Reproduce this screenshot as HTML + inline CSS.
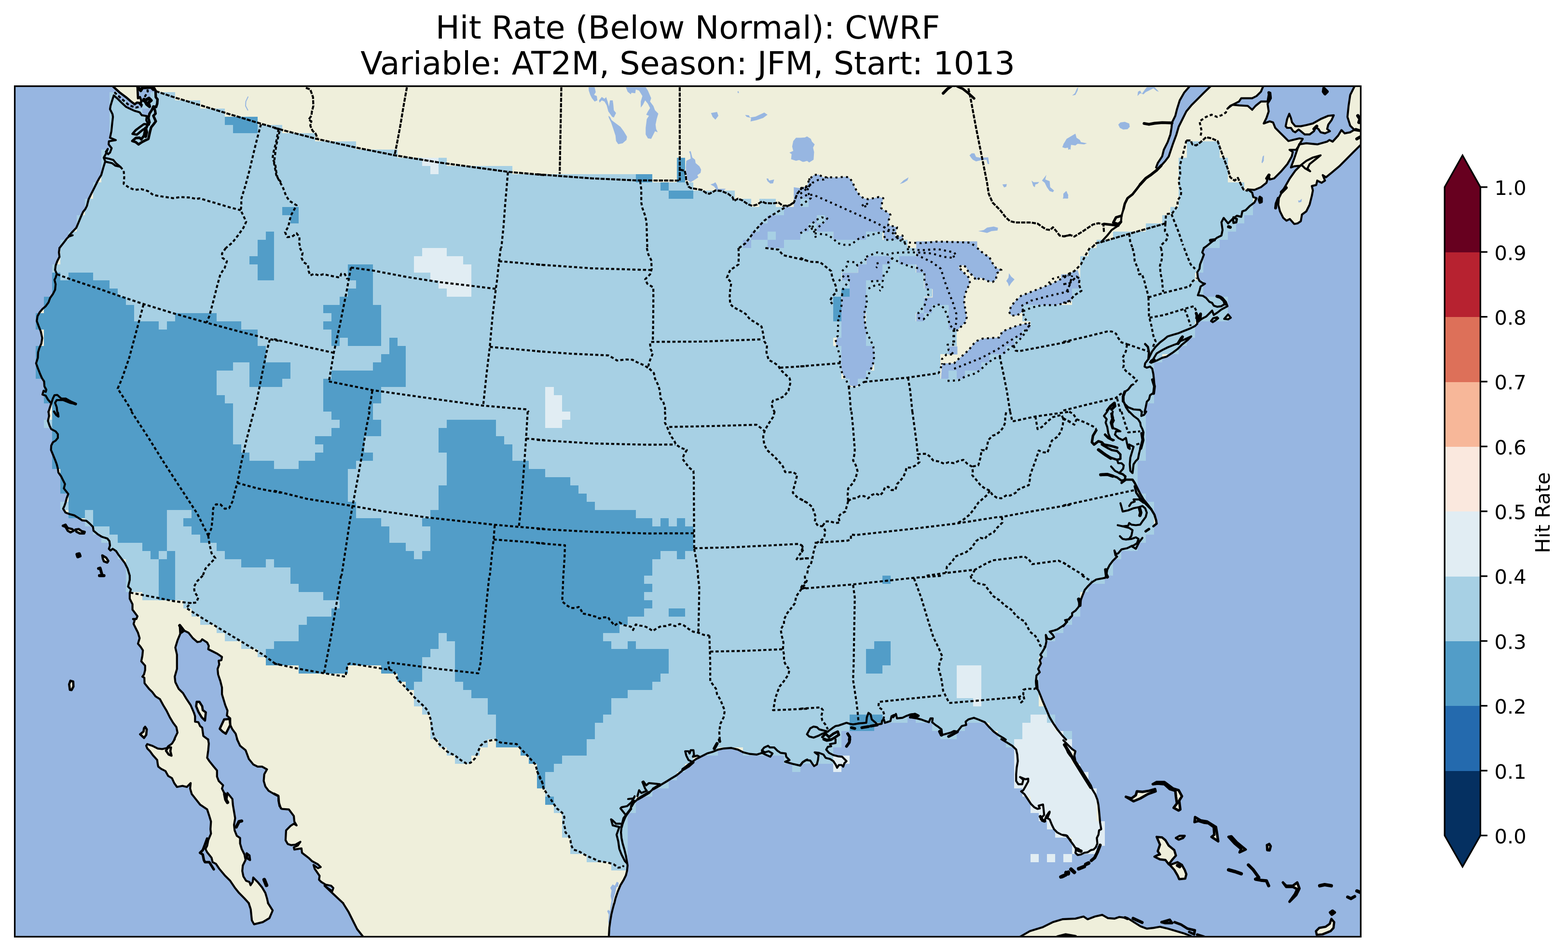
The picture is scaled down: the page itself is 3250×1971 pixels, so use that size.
<!DOCTYPE html>
<html lang="en"><head><meta charset="utf-8"><title>Hit Rate (Below Normal): CWRF</title>
<style>html,body{margin:0;padding:0;background:#fff}body{width:3250px;height:1971px;overflow:hidden}svg{display:block}text{font-family:"DejaVu Sans","Liberation Sans",sans-serif;fill:#000}</style></head><body>
<svg width="3250" height="1971" viewBox="0 0 3250 1971">
<rect width="3250" height="1971" fill="#fff"/>
<defs><clipPath id="mapclip"><rect x="30.6" y="178.6" width="2789.8" height="1762.8"/></clipPath></defs>
<g clip-path="url(#mapclip)">
<rect x="30.6" y="178.6" width="2789.8" height="1762.8" fill="#efefdb"/>
<path d="M2465.7 179L2454.3 192.2 2445.2 208.1 2439.5 226.3 2436.1 240 2429.3 253.7 2428.2 265 2425.9 278.7 2420.2 294.6 2412.2 310.5 2408.8 324.2 2399.7 337.9 2396.3 347 2396.3 353.8 2406.5 343.5 2415.6 333.3 2422.5 324.2 2427 310.5 2431.6 296.9 2438.4 278.7 2443 262.8 2452.1 244.5 2458.9 230.9 2470.3 217.2 2481.6 205.9 2495.3 192.2 2509 179Z" fill="#97b6e1"/>
<path d="M25 172L234.8 172 234.8 179.7 247.3 191.1 261 201.3 271.2 210 279.2 216.1 283.7 212.7 288.3 213.1 291.7 217.2 292.8 208.1 290.1 201.3 286 203.6 284.9 179.7 284.9 172 317.9 171.7 317.9 179.7 322.4 187.7 322.9 201.3 326.5 205.9 325.8 215 323.5 221.8 317.9 220.7 311 230.9 304.2 240.5 305.3 253.7 303.1 249.1 304.2 240.5 294 238.9 289.4 232.7 279.2 229.8 268.9 225.2 261 221.3 251.9 212.7 243.9 204.7 235.9 197.9 232.5 208.1 229.1 219.5 228 226.3 233.2 236.6 234.1 242.3 232.5 255.9 230.9 271.9 228 285.5 240 290.5 225.7 292.8 225.2 299.2 231.4 307.1 228 316.2 224.1 319.6 219.5 314.6 223.4 308.7 219.1 319.6 215 326.9 218.2 334.4 214.3 347 209.8 362.9 205.2 370.2 201.8 376.5 195 390.2 188.1 403.9 183.6 413 180.2 426.6 176.8 433.4 172.2 439.1 167.6 449.4 162 463 158.1 472.1 149.4 481.2 142.6 489.2 150.6 487.6 142.6 490.3 138.1 494.9 131.2 504 123.3 514 123.3 514 122.1 523.1 123.3 532.2 118.7 541.3 115.3 550.4 114.2 559.5 117.6 567.5 115.3 575.4 113 580 115.3 589.1 114.2 600.5 109.6 609.6 103.9 617.5 100.5 626.7 94.8 634.6 88 640.3 82.3 647.1 77.8 655.1 76.2 665.3 80 675.6 84.6 687 87.5 700.6 85.7 712 81.6 721.1 78.9 730.2 78.4 741.6 74.8 753 78.9 764.3 83.4 775.7 86.9 783.7 91.4 790.5 92.1 800.7 96 807.6 94.8 812.1 90.3 809.9 88 817.8 94.8 820.1 99.4 828.1 106.2 836 102.8 846.3 100.5 854 100.5 853 101.7 862.1 99.4 872.3 102.8 882.6 106.2 889.4 115.3 894 119.9 899.7 119.9 907.6 115.3 913.3 109.6 916.7 106.2 923.5 105.7 932.7 109.6 941.8 114.2 953.1 117.6 962.2 119.9 971.3 121 979.3 126.7 987.3 130.1 994.1 134.7 1003.2 132.4 1012.3 136.9 1018 141.5 1023.7 138.1 1032.8 135.8 1041.9 133.5 1048.7 130.8 1054.4 135.8 1062.4 144.9 1065.8 154 1068.1 163.1 1073.7 169.9 1078.3 179 1079.4 185.9 1085.1 192.7 1092 193.8 1099.9 201.8 1106.7 210.9 1112.4 222.3 1115.9 226.8 1121.5 228 1130.6 225.7 1137.5 229.1 1140.9 233.6 1137.5 240.5 1142 245 1148.9 251.9 1158 258.7 1167.1 264.4 1178.4 268.9 1193 268.9 1193 268.9 1202.1 265.5 1215.8 271.2 1221.4 268.9 1229.4 268.9 1240.8 274.6 1252.2 274.6 1263.5 284.9 1277.2 282.6 1282.9 275.7 1282.9 279.2 1285.2 276.9 1293.1 281.4 1302.2 286 1311.3 289.4 1322.7 286 1334.1 291.7 1340.9 296.2 1347.8 295.1 1359.1 292.8 1370.5 300.8 1379.6 300.8 1388.7 298.5 1397.8 295.1 1402.4 299.2 1404.6 299.6 1416 308.7 1427.4 315.6 1434.2 322.4 1443.3 331.5 1449 338.3 1461.5 345.2 1472.9 352 1486.6 358.8 1498 365.6 1507.1 367.9 1518.4 363.4 1527.5 361.1 1533 362.2 1532 356.5 1541.1 348.6 1546.8 346.3 1550.2 336.1 1552.5 327 1551.3 315.6 1545.7 305.3 1542.2 303.1 1545.7 305.3 1551.3 311 1557 316.7 1565 325.8 1575.2 327 1584.3 328.1 1588.9 333.8 1593.4 342.9 1598 348.6 1608.2 356.5 1612.8 361.1 1623 366.8 1631 378.2 1628.7 387.3 1631 395.2 1623 394.1 1634.4 397.5 1645.8 406.6 1657.2 414.6 1667.4 429.4 1677.6 433.9 1691.3 437.3 1702.7 436.2 1718.6 437.3 1727.7 431.6 1741.4 429.4 1752.7 425.9 1759.6 429.4 1766.4 438.5 1777.8 440.7 1786.9 447.6 1790.3 454.4 1800.5 465.8 1814.2 477.2 1825.6 486.3 1839.2 495.4 1850.6 506.7 1862 515.8 1872 515.6 1872 519.7 1884.7 522 1907.5 526.5 1915.6 544.7 1911.1 558.4 1902.9 565.2 1887 555.6 1872 555.7 1872 553.4 1862 550 1850.6 543.2 1839.2 534 1827.9 524.9 1818.7 523.8 1827.9 519.3 1834.7 517 1827.9 510.2 1825.6 504.5 1816.5 502.2 1805.1 503.3 1793.7 509 1782.3 506.7 1771 501 1759.6 497.6 1748.2 497.6 1736.8 490.8 1732.3 486.3 1720.9 485.1 1709.5 487.4 1695.9 485.1 1682.2 482.8 1668.5 481.7 1656 471.5 1643.5 469.2 1659.4 465.8 1645.8 460.1 1634.4 462.4 1627.6 453.3 1618.5 449.8 1609.4 449.8 1596.9 443 1588.9 433.9 1577.5 429.4 1570.7 431.6 1554.8 432.8 1541.1 431.2 1532 431.6 1533 421.4 1525.3 419.1 1508.2 414.6 1504.8 411.2 1496.8 404.3 1495.7 404.3 1484.3 402.1 1477.5 395.2 1461.5 386.1 1447.9 379.3 1436.5 370.2 1427.4 363.4 1413.7 362.2 1402.4 366.8 1386.4 366.8 1372.8 366.8 1356.9 363.4 1342.1 367.9 1327.3 373.6 1313.6 372.5 1295.4 381.6 1306.8 390.7 1311.3 399.8 1322.7 408.9 1330.7 415.7 1329.5 419.1 1325 429.4 1331.8 432.8 1338.6 431.6 1345.5 440.7 1350 449.8 1354.6 460.1 1361.4 458.9 1368.2 453.3 1369.4 454.4 1377.3 451 1386.4 452.1 1397.8 456.7 1411.5 460.1 1425.1 460.1 1438.8 463.5 1450.2 466.9 1461.5 471.5 1472.9 470.3 1483.2 477.2 1488.9 477.2 1502.5 481.7 1511.6 488.5 1520.7 491.9 1533 491.3 1532 497.6 1545.7 509 1554.8 515.8 1573 524.9 1584.3 534 1588.9 543.2 1588.9 553.4 1594.6 547.7 1604.8 546.6 1618.5 550 1629.9 556.8 1639 568.2 1645.8 568 1644.7 577.1 1649.2 577.1 1659.4 579.4 1670.8 583.9 1676.5 598.7 1677.6 609 1691.3 610.1 1702.7 614.7 1710.6 609 1707.2 602.1 1711.8 593 1720.9 591.9 1741.4 596.4 1749.3 603.3 1751.6 612.4 1750.5 622.6 1744.8 616.9 1752.7 609 1756.2 610.1 1760.7 624.9 1758.4 626 1767.5 640.8 1778.9 646.5 1784.6 659 1791.4 664.7 1797.1 659 1799.4 649.9 1792.6 652.2 1800.5 662.4 1815.3 661.3 1823.3 665.9 1827.9 675 1833.5 686.3 1835.8 690.9 1840.4 688.6 1847.2 672.7 1835.8 690.9 1852.9 711.4 1872 711.1 1872 722 1889.3 731.1 1907.5 740.2 1925.6 753.8 1942.9 753.8 1947 25 1947Z" fill="#97b6e1"/>
<path d="M1261.9 1947L1261.9 1942.2 1263 1922.9 1264.8 1909.3 1267.1 1895.6 1269.8 1884.3 1272.8 1872.9 1273.4 1872 1275.7 1862 1280.3 1848.3 1286 1834.7 1292.8 1823.3 1297.3 1814.2 1299.6 1805.1 1300.8 1793.7 1299.6 1786.9 1297.3 1773.2 1293.9 1759.6 1290.5 1748.2 1288.2 1736.8 1287.1 1725.4 1288.2 1714.1 1290.5 1707.2 1295.1 1695.9 1299.6 1686.8 1306.4 1677.6 1308.7 1670.8 1313.3 1664 1322.4 1656 1331.5 1651.5 1345.1 1643.5 1354.2 1634.4 1361.1 1629.9 1370.2 1626.4 1381.5 1619.6 1390.6 1613.9 1402 1607.1 1413.4 1598 1415.7 1593.4 1427.1 1584.3 1438.4 1576.4 1443 1573 1454.4 1567.3 1465.7 1561.6 1477.1 1558.2 1488.5 1553.6 1499.9 1551.3 1515.8 1550.2 1529.5 1553.6 1540.8 1559.3 1554.5 1562.7 1568.2 1563.9 1579.5 1560.4 1579.5 1554.8 1584.1 1549.1 1592 1545.7 1595.5 1549.1 1604.6 1549.1 1611.4 1555.9 1618.2 1560.4 1628.5 1561.6 1629.6 1568.4 1636.4 1575.2 1627.3 1578.7 1643.3 1583.2 1658 1586.6 1663.7 1579.8 1673.1 1574.1 1659 1586.6 1663.6 1579.8 1670.4 1575.2 1679.5 1576.4 1684 1583.2 1687.4 1587.8 1693.1 1584.3 1695.4 1575.2 1696.6 1565 1688.6 1559.3 1697.7 1560.4 1706.8 1563.9 1711.3 1570.7 1720.4 1573 1727.3 1577.5 1731.8 1584.3 1735.2 1591.2 1738.7 1585.5 1744.3 1585.5 1747.8 1588.9 1750 1582.1 1754.6 1577.5 1750 1573 1745.5 1568.4 1736.4 1567.3 1727.3 1565 1718.2 1560.4 1712.5 1553.6 1715.9 1547.9 1722.7 1546.8 1720.4 1542.2 1731.8 1540 1731.8 1532 1715.9 1516.2 1725 1509.3 1731.8 1504.8 1738.7 1503.6 1754.6 1498 1761.4 1500.2 1768.2 1501.4 1781.9 1499.1 1795.5 1498 1796.7 1486.6 1800.1 1477.5 1804.6 1480.9 1806.9 1491.1 1813.8 1496.8 1818.3 1501.4 1827.4 1500.2 1828.5 1493.4 1832 1491.1 1834.2 1498 1845.6 1494.5 1847.9 1484.3 1852.4 1482 1851.3 1486.6 1857 1479.7 1859.3 1488.9 1870.6 1487.7 1877.5 1484.3 1886.6 1480.9 1896.8 1479.7 1903.6 1483.2 1895.7 1485.4 1886.6 1486.6 1900.2 1488.9 1909.3 1491.1 1918.4 1494.5 1925.3 1496.8 1928.7 1488.9 1933.2 1488.9 1932.1 1496.8 1938.9 1502.5 1945.7 1507.1 1951.4 1511.6 1952.6 1520.7 1950.3 1524.1 1961.7 1520.7 1970.8 1518.4 1977.6 1515 1984.4 1516.2 1993.5 1504.8 2002.6 1502.5 2001.5 1495.7 2007.2 1491.1 2018.6 1487.7 2027.7 1491.1 2041.3 1496.8 2050.4 1507.1 2059.5 1516.2 2068.6 1523 2080 1529.8 2084.6 1533 2075.5 1532 2086.8 1538.8 2098.2 1545.7 2106.2 1553.6 2108.5 1563.9 2109.6 1577.5 2107.3 1591.2 2106.2 1604.8 2106.2 1618.5 2110.7 1625.3 2118.7 1625.3 2121 1616.2 2114.2 1610.5 2125.5 1615.1 2131.2 1613.9 2131.2 1619.6 2125.5 1629.9 2121 1637.8 2116.4 1640.1 2123.3 1645.8 2130.1 1656 2136.9 1666.3 2143.7 1673.1 2150.6 1676.5 2155.1 1675.4 2152.8 1669.7 2161.9 1667.4 2163.1 1677.6 2164.2 1689 2159.7 1693.6 2157.4 1698.1 2164.2 1702.7 2168.8 1691.3 2175.6 1682.2 2171 1695.9 2175.6 1698.1 2180.2 1709.5 2184.7 1718.6 2191.5 1725.4 2200.6 1730 2209.7 1731.1 2214.3 1736.8 2219.1 1741.4 2204 1731.1 2212 1732.3 2217.7 1741.4 2224.5 1750.5 2229 1757.3 2235.9 1759.6 2230.2 1761.9 2229 1767.5 2233.6 1772.1 2240.4 1771 2247.2 1767.5 2254.1 1766.4 2260.9 1761.9 2266.6 1760.7 2271.1 1756.2 2274.5 1748.2 2273.4 1736.8 2276.8 1730 2278 1720.9 2282.5 1718.6 2280.2 1705 2278.6 1686.8 2276.8 1668.5 2274.5 1657.2 2270 1645.8 2264.3 1636.7 2260.9 1627.6 2249.5 1609.4 2238.1 1591.2 2229 1577.5 2226.8 1566.1 2229 1557 2222.2 1552.5 2213.1 1543.4 2204 1534.3 2209.7 1533 2200.6 1523 2191.5 1511.6 2182.4 1498 2175.6 1486.6 2168.8 1470.6 2161.9 1454.7 2157.4 1443.3 2152.8 1432 2148.3 1425.1 2147.2 1411.5 2148.3 1400.1 2155.1 1393.3 2151.7 1386.4 2157.4 1375.1 2155.1 1368.2 2159.7 1361.4 2156.3 1356.9 2159.7 1352.3 2166.5 1340.9 2168.8 1329.5 2167.6 1315.9 2171 1323.9 2177.9 1325 2184.7 1320.4 2182.4 1315.9 2175.6 1309.1 2184.7 1306.8 2191.5 1304.5 2198.4 1300 2205.2 1295.4 2212 1288.6 2207.5 1285.2 2214.3 1284 2219.1 1278.3 2222.2 1276.1 2222.2 1270.4 2229 1265.8 2234.7 1259 2239.3 1252.2 2240.4 1243.1 2243.8 1234 2248.4 1222.6 2254.1 1215.8 2263.2 1206.7 2272.3 1201 2290.5 1197.6 2293.2 1193 2292.8 1193 2295 1180.7 2299.6 1171.6 2306.4 1162.5 2315.5 1153.4 2317.8 1146.6 2324.6 1138.6 2336 1136.3 2345.1 1131.8 2354.2 1137.5 2361 1123.8 2367.9 1114.7 2372.4 1103.3 2381.5 1096.5 2390.6 1090.8 2397.4 1085.1 2396.3 1078.3 2392.9 1066.9 2386.1 1055.5 2379.2 1046.4 2370.1 1035.1 2363.3 1023.7 2356.5 1010 2351.9 1000.9 2349.6 989.5 2347.4 980.4 2348.5 971.3 2349.6 962.2 2354.2 955.4 2358.8 950.9 2361 939.5 2363.3 930.4 2366.7 919 2369 905.3 2370.1 896.2 2367.9 889.4 2363.3 875.8 2366 862.1 2372.4 859.8 2372.4 853 2372.4 854 2374.7 844 2377 832.6 2381.5 828.1 2383.8 819 2390.6 814.4 2392.9 800.7 2391.8 787.1 2390.6 775.7 2388.3 764.3 2383.8 759.8 2377 762.1 2372.4 759.8 2373.5 753 2380.4 743.9 2383.8 737 2388.3 727.9 2395.2 718.8 2404.3 709.7 2413.4 702.9 2420.2 697.2 2431.6 693.8 2443 690.4 2454.3 685.8 2465.7 681.3 2477.1 675.6 2481.6 671 2480.5 650.5 2479.4 659.6 2486.2 664.2 2493 659.6 2499.9 656.2 2506.7 649.4 2512.4 643.7 2515.8 652.8 2522.6 648.3 2531.7 641.4 2544.2 634.6 2540.8 625.5 2534 617.5 2524.9 613 2522.6 614.1 2529.4 616.4 2536.3 623.2 2538.5 630.1 2531.7 634.6 2522.6 635.8 2515.8 633.5 2512.4 627.8 2506.7 625.5 2499.9 617.5 2493 613 2482.8 611.9 2486.2 602.8 2488.5 593.7 2497.6 588 2493 586.8 2486.2 582.3 2482.8 575.4 2481.6 564.1 2486.2 557.2 2487.3 548.1 2491.9 536.8 2495.3 527.7 2491.9 523.1 2495.3 514 2495.3 514 2499.9 510.8 2511.2 501.7 2522.6 492.6 2531.7 488.1 2534 476.7 2531.7 460.7 2536.3 451.6 2545.4 463 2554.5 453.9 2563.6 447.1 2572.7 449.4 2575 438 2581.8 435.7 2590.9 426.6 2600 419.8 2604.5 410.7 2597.7 408.4 2595.4 399.3 2586.3 392.5 2586.3 392.5 2600 393.6 2613.6 387.9 2625 378.8 2629.6 362.9 2631.8 372 2640.9 369.7 2654.6 356.1 2668.3 340.1 2677.4 324.2 2679.6 315.1 2672.8 310.5 2686.5 310.5 2693.3 300.3 2692.8 299.2 2689.4 308.3 2682.5 328.8 2675.7 347 2682.5 344.7 2693.9 343.5 2698.5 342.4 2705.3 349.2 2715.5 354.9 2709.9 349.2 2714.4 340.1 2725.8 331 2737.2 321.9 2721.2 326.5 2707.6 333.3 2696.2 342.4 2684.8 353.8 2673.4 369.7 2664.3 385.6 2657.5 397 2650.7 410.7 2649.5 424.3 2653 438 2659.8 451.6 2666.6 457.3 2673.4 453.9 2682.5 464.2 2689.4 463 2696.2 458.5 2698.5 444.8 2707.6 438 2714.4 424.3 2719 406.1 2721.2 394.7 2719 385.6 2728.1 383.4 2730.3 374.3 2739.4 378.8 2746.3 374.3 2741.7 362.9 2748.5 367.4 2762.2 356.1 2775.9 344.7 2791.8 328.8 2805.4 315.1 2821.4 299.2 2821.4 270.7 2810 267.3 2798.6 274.1 2787.2 276.4 2780.4 269.6 2773.6 281 2762.2 293.5 2755.4 290.1 2750.8 293.5 2730.3 299.2 2826 299.2 2826 1947Z" fill="#97b6e1"/>
<path d="M2618.2 172L2618.2 179 2613.6 189.9 2604.5 199 2595.4 203.6 2572.7 203.6 2568.1 210.4 2559 215 2549.9 219.5 2544.2 225.2 2554.5 217.2 2568.1 218.4 2586.3 219.5 2595.4 227.5 2602.3 219.5 2613.6 210.4 2627.3 210.4 2629.6 196.8 2633 192.2 2634.1 203.6 2627.3 215 2629.6 230.9 2625 244.5 2619.3 255.9 2631.8 251.4 2638.7 253.7 2643.2 265 2654.6 276.4 2666 287.8 2670.5 292.3 2693.3 286.7 2700.1 287.8 2693.3 299.2 2692.8 299.2 2707.6 296.9 2730.3 299.2 2750.8 293.5 2755.4 290.1 2762.2 293.5 2773.6 281 2780.4 269.6 2787.2 276.4 2798.6 274.1 2810 267.3 2821.4 270.7 2826 270.7 2826 172Z" fill="#97b6e1"/>
<path d="M1971.2 179L1977.6 180.8 1984.4 179 1984.4 174 1971.2 174Z" fill="#97b6e1"/>
<path d="M130.1 1089.7L135.8 1087.4 140.3 1094.2 149.4 1096.5 152.9 1099.9 146 1103.3 140.3 1099.9 135.8 1092 130.1 1089.7Z" fill="#efefdb"/>
<path d="M156.3 1097.6L163.1 1096.5 169.9 1101.1 175.6 1102.2 174.5 1105.6 165.4 1105.6 158.5 1102.2 156.3 1097.6Z" fill="#efefdb"/>
<path d="M212 1151.1L220 1155.7 224.5 1162.5 222.3 1165.9 215.4 1163.6 213.2 1158 212 1151.1Z" fill="#efefdb"/>
<path d="M407.7 1454.7L413.4 1454.7 419.1 1463.8 420.3 1471.8 426.6 1476.3 424.8 1493.4 418 1486.6 411.2 1475.2 406.6 1463.8 407.7 1454.7Z" fill="#efefdb"/>
<path d="M464.6 1491.1L476 1490 477.2 1502.5 468.1 1520.7 461.2 1516.2 455.5 1510.5 464.6 1491.1Z" fill="#efefdb"/>
<path d="M300.8 1506.6L304.2 1511.6 303.1 1523 298.5 1529.4 290.5 1521.8 297.4 1516.2 298.5 1509.3 300.8 1506.6Z" fill="#efefdb"/>
<path d="M146 1411L151.7 1412.6 152.2 1422.9 148.3 1430.1 144.9 1429.7 143.3 1418.3 146 1411Z" fill="#efefdb"/>
<path d="M2383.8 750.7L2390.6 743.9 2397.4 732.5 2408.8 725.6 2420.2 720 2431.6 715.4 2440.7 712 2447.5 700.6 2450.9 697.2 2445.2 707.4 2454.3 704 2469.1 697.2 2461.2 705.2 2449.8 714.3 2440.7 723.4 2431.6 730.2 2417.9 739.3 2408.8 741.6 2397.4 747.3 2386.1 751.8 2383.8 750.7Z" fill="#efefdb"/>
<path d="M2510.1 665.3L2514.6 659.6 2522.6 657.4 2524.9 659.6 2519.2 664.2 2513.5 667.6 2510.1 665.3Z" fill="#efefdb"/>
<path d="M2537.4 660.8L2545.4 651.7 2551.1 658.5 2545.4 661.9 2537.4 660.8Z" fill="#efefdb"/>
<path d="M2333.7 1651.5L2349.6 1660.6 2363.3 1654.9 2379.2 1645.8 2395.2 1640.1 2394 1635.5 2381.5 1639 2367.9 1641.2 2356.5 1640.1 2354.2 1648.1 2345.1 1654.9 2333.7 1651.5Z" fill="#efefdb"/>
<path d="M2389.5 1625.3L2397.4 1620.8 2413.4 1620.8 2422.5 1627.6 2431.6 1634.4 2443 1637.8 2449.8 1650.3 2444.1 1659.4 2446.4 1677.6 2443 1679.9 2432.7 1674.2 2439.5 1665.1 2437.3 1650.3 2436.1 1639 2424.7 1635.5 2413.4 1625.3 2399.7 1624.2 2389.5 1625.3Z" fill="#efefdb"/>
<path d="M2397.4 1734.5L2408.8 1735.7 2415.6 1741.4 2422.5 1752.7 2433.9 1761.9 2437.3 1773.2 2429.3 1782.3 2422.5 1791.4 2415.6 1782.3 2404.3 1781.2 2392.9 1775.5 2399.7 1772.1 2404.3 1771 2399.7 1764.1 2404.3 1750.5 2397.4 1734.5Z" fill="#efefdb"/>
<path d="M2424.7 1792.6L2440.7 1786.9 2449.8 1792.6 2455.5 1802.8 2458.9 1811.9 2456.6 1821 2444.1 1822.2 2440.7 1814.2 2433.9 1802.8 2424.7 1792.6Z" fill="#efefdb"/>
<path d="M2437.3 1736.8L2445.2 1732.3 2455.5 1732.3 2452.1 1736.8 2443 1740.2 2437.3 1736.8Z" fill="#efefdb"/>
<path d="M2477.1 1693.6L2476 1703.8 2483.9 1701.5 2495.3 1705 2504.4 1706.1 2515.8 1714.1 2516.9 1730 2511.2 1734.5 2524.9 1743.6 2522.6 1727.7 2520.3 1714.1 2502.1 1702.7 2488.5 1700.4 2477.1 1693.6Z" fill="#efefdb"/>
<path d="M2546.5 1734.5L2552.2 1733.4 2563.6 1745.9 2581.8 1760.7 2569.3 1766.4 2572.7 1759.6 2559 1748.2 2546.5 1734.5Z" fill="#efefdb"/>
<path d="M2626.2 1751.6L2630.7 1749.3 2633.7 1753.9 2631.4 1762.3 2626.8 1761.9 2626.2 1751.6Z" fill="#efefdb"/>
<path d="M2659.2 1829L2666 1835.8 2679.6 1835.8 2688.7 1829 2693.3 1841.5 2686.5 1855.2 2672.8 1868.8 2684.2 1852.9 2688.7 1842.6 2679.6 1838.1 2666 1838.1 2659.2 1829Z" fill="#efefdb"/>
<path d="M2692.8 299.2L2707.6 296.9 2730.3 299.2 2750.8 293.5 2755.4 290.1 2762.2 293.5 2773.6 281 2780.4 269.6 2787.2 276.4 2798.6 274.1 2810 267.3 2821.4 270.7 2821.4 299.2 2805.4 315.1 2791.8 328.8 2775.9 344.7 2762.2 356.1 2748.5 367.4 2741.7 362.9 2746.3 374.3 2739.4 378.8 2730.3 374.3 2728.1 383.4 2719 385.6 2721.2 394.7 2719 406.1 2714.4 424.3 2707.6 438 2698.5 444.8 2696.2 458.5 2689.4 463 2682.5 464.2 2673.4 453.9 2666.6 457.3 2659.8 451.6 2653 438 2649.5 424.3 2650.7 410.7 2657.5 397 2664.3 385.6 2673.4 369.7 2684.8 353.8 2696.2 342.4 2707.6 333.3 2721.2 326.5 2737.2 321.9 2725.8 331 2714.4 340.1 2709.9 349.2 2715.5 354.9 2705.3 349.2 2698.5 342.4 2693.9 343.5 2682.5 344.7 2675.7 347 2682.5 328.8 2689.4 308.3 2692.8 299.2Z" fill="#efefdb"/>
<path d="M2672.3 235.9L2675.7 244.5 2678 253.7 2684.8 261.6 2696.2 261.6 2707.6 259.3 2721.2 255.9 2737.2 246.8 2753.1 240 2764.5 238.9 2759.9 249.1 2753.1 258.2 2750.8 267.3 2756.5 271.9 2746.3 276.4 2737.2 274.1 2732.6 267.3 2726.9 263.9 2723.5 271.9 2714.4 278.7 2704.2 278.7 2696.2 271.9 2691.6 268.4 2684.8 274.1 2680.3 271.9 2675.7 265 2667.8 265 2664.8 261.6 2667.8 246.8 2672.3 235.9Z" fill="#efefdb"/>
<path d="M2807.7 178.6L2798.6 196.8 2795.2 219.5 2792.9 242.3 2798.6 260.5 2807.7 269.6 2821.4 271.9 2821.4 178.6Z" fill="#efefdb"/>
<path d="M2111.2 1943.3L2134.7 1929.8 2161.7 1921.4 2181.9 1911.3 2202.1 1905.2 2229.1 1903.9 2245.9 1899.5 2254.3 1905.2 2269.5 1899.5 2284.6 1896.1 2296.4 1902.8 2309.9 1903.9 2320 1900.5 2336.9 1902.8 2350.3 1911.3 2363.8 1919.7 2377.3 1924.7 2390.7 1923.1 2404.2 1920.7 2421.1 1924.7 2437.9 1929.8 2454.7 1934.8 2468.2 1939.9 2473.3 1943.3 2473.3 1951.7 2111.2 1951.7Z" fill="#efefdb"/>
<path d="M2759.6 1904.5L2765.3 1911.3 2764 1923.1 2757.9 1929.8 2741.1 1936.5 2729.3 1937.5 2727.6 1929.8 2734.3 1923.1 2747.8 1920.7 2756.2 1914.6 2759.6 1904.5Z" fill="#efefdb"/>
<path d="M514 200.9L509.5 210.4 509 219.5 513.6 228.2" fill="none" stroke="#97b6e1" stroke-width="2" stroke-linecap="round" stroke-linejoin="round"/>
<path d="M1220 180.8L1232.5 180.8 1234.8 191.1 1231.3 196.8 1237 199 1238.2 208.1 1232.5 210.4 1226.8 203.6 1223.4 196.8 1220.4 187.7Z" fill="#97b6e1"/>
<path d="M1241.6 208.1L1247.3 200.9 1253 204.7 1256.4 201.3 1259.8 211.6 1262.1 220.7 1264.3 208.1 1270 208.1 1271.2 216.1 1272.3 228.6 1276.9 234.3 1272.3 243.4 1268.9 242.3 1260.9 230.9 1257.5 218.4 1253 210.4 1247.3 208.1 1242.7 212.7Z" fill="#97b6e1"/>
<path d="M1260.9 240L1264.3 242.3 1267.8 249.1 1276.9 255.9 1286 262.8 1292.8 271.9 1299.6 283.2 1298.5 290.1 1290.5 296.9 1281.4 298.7 1276.9 292.3 1275.7 281 1271.2 267.3 1266.6 253.7 1262.1 244.5Z" fill="#97b6e1"/>
<path d="M1297.3 180.8L1338.3 180.8 1342.9 187.7 1349.7 203.6 1347.4 210.4 1354.2 219.5 1357.6 228.6 1364.5 235.4 1361.1 246.8 1358.8 258.2 1359.9 267.3 1363.3 274.1 1357.6 271.9 1353.1 281 1349.7 287.8 1342.9 286.7 1338.3 278.7 1338.3 265 1340.6 246.8 1345.1 240 1339.4 237.7 1342.9 230.9 1347.4 224.1 1342.9 215 1337.2 208.1 1332.6 217.2 1328.1 222.9 1328.1 210.4 1331.5 199 1324.6 187.7 1317.8 185.4 1316.7 193.3 1308.7 192.2 1307.6 195.6 1300.8 189.9Z" fill="#97b6e1"/>
<path d="M1428.2 314L1431.6 313.3 1435 326.5 1440.7 331 1441.8 337.9 1449.8 344.7 1453.2 351.5 1452.1 358.3 1445.3 362.9 1447.5 367.4 1440.7 372 1431.6 377.7 1425.9 374.3 1422.5 360.6 1421.4 347 1422.5 333.3 1431.6 328.8 1430.5 319.6Z" fill="#97b6e1"/>
<path d="M1472.6 382.2L1479.4 380 1482.8 377.7 1486.2 383.4 1488.5 391.3 1504.4 391.3 1499.9 394.7 1486.2 395.2 1480.5 386.8Z" fill="#97b6e1"/>
<path d="M1473.7 234.3L1486.2 232 1489 240 1482.8 248 1477.1 242.3Z" fill="#97b6e1"/>
<path d="M1544.3 238.2L1552.2 238.9 1554.5 243.4 1565.9 241.8 1584.1 233.2 1590.9 237.7 1581.8 244.5 1568.2 249.1 1555.6 251.8 1556.8 244.5 1547.7 242.3Z" fill="#97b6e1"/>
<path d="M1588.6 370.2L1592 369.7 1594.3 374.3 1604.6 372 1602.3 380 1596.6 380.6 1590.9 375.4Z" fill="#97b6e1"/>
<path d="M1673.1 285.5L1663.7 285.5 1658 292.3 1655.8 303.7 1658 312.8 1650.1 316.2 1654.6 319.6 1653.5 329.9 1663.7 335.6 1673.1 333.3Z" fill="#97b6e1"/>
<path d="M1528.3 189.9L1530.6 188.8 1531.7 192.2 1529.9 193.3Z" fill="#97b6e1"/>
<path d="M1278.9 1827.5L1282.3 1829.7 1281.2 1837.7 1277.8 1838.8 1275.5 1850.2 1272.1 1861.5 1269.8 1872.9 1267.1 1884.3 1264.8 1895.6 1263 1909.3 1261.9 1918.4 1260.7 1909.3 1261.9 1895.6 1258.5 1888.8 1260.7 1885.4 1264.1 1888.8 1266.4 1872.9 1267.5 1866.1 1265.7 1857 1267.5 1845.6 1264.8 1840 1269.8 1833.1 1274.4 1835.4 1277.8 1828.6Z" fill="#97b6e1"/>
<path d="M1645.3 387.9L1659 390.2 1672.7 385.6 1677.2 372 1686.3 362.9 1696.6 361.8 1706.8 367.4 1718.2 367.4 1738.7 367.9 1748.9 366.3 1759.1 367.4 1766 375.4 1770.5 385.6 1775.1 394.7 1781.9 405 1789.9 410.7 1800.1 413 1810.3 410.7 1821.7 408.4 1830.8 410.7 1828.5 418.6 1826.3 431.2 1836.5 438 1845.6 444.8 1842.2 456.2 1841.1 467.6 1850.2 468.7 1859.3 471 1857 480.1 1854.7 488.1 1863.8 490.3 1870.6 488.1 1872.9 497.2 1863.8 499.4 1832 497.2 1832 481.2 1795.5 481.2 1795.5 497.2 1727.3 497.2 1727.3 480.1 1659 480.1 1631.7 497.2 1613.5 514 1554.3 560.9 1531.6 560.9 1531.6 514 1590.7 480.1 1613.5 446 1645.3 428.9Z" fill="#97b6e1"/>
<path d="M1659 285.5L1668.1 285.1 1672.7 282.8 1680.6 287.8 1682.9 293.5 1688.6 299.2 1685.2 306 1687.4 315.1 1686.3 331 1677.2 336.7 1672.7 333.3 1665.8 335.6 1659 331 1649.9 333.3 1639.7 329.9 1640.8 319.6 1636.2 316.2 1644.2 312.8 1641.9 303.7 1644.2 292.3 1649.9 285.5Z" fill="#97b6e1"/>
<path d="M2009.5 321.9L2014 317.8 2019.7 317.8 2023.1 325.3 2032.2 326.9 2048.2 326 2050.4 340.1 2047 339.7 2044.7 331 2032.2 332.2 2023.1 334.4 2016.3 331 2012.9 326.9Z" fill="#97b6e1"/>
<path d="M1865 381.6L1872.9 373.8 1883.2 367.4 1880.9 373.8 1872.9 378.8Z" fill="#97b6e1"/>
<path d="M2027.7 479L2039.1 476.7 2045.9 471.7 2059.5 469.4 2068.6 472.1 2067.5 477.8 2055 479 2045.9 482.8 2036.8 480.8Z" fill="#97b6e1"/>
<path d="M2077.7 382.2L2086.8 381.6 2085.7 386.8 2081.2 388.4Z" fill="#97b6e1"/>
<path d="M2138 374.3L2142.6 377.7 2154 377.2 2150.6 381.1 2146 382.2 2144.9 387.9 2141.5 385.6Z" fill="#97b6e1"/>
<path d="M2159.7 374.3L2168.8 362.4 2166.5 372 2175.6 375.4 2176.7 387.9 2184.7 394.7 2182.4 398.2 2175.6 395.9 2169.9 387.9 2165.4 378.8Z" fill="#97b6e1"/>
<path d="M2202.9 411.8L2205.2 403.9 2210.9 395.9 2214.3 410.7Z" fill="#97b6e1"/>
<path d="M2201.8 304.9L2205.2 296.9 2212 290.1 2219.1 283.2 2219.1 310.5 2214.3 306 2207.5 307.1Z" fill="#97b6e1"/>
<path d="M1795.5 529.9L1847.9 529.9 1847.9 548.1 1832 548.1 1832 582.3 1795.5 582.3 1795.5 600.5 1796.7 616.4 1795.5 641.4 1792.1 659.6 1795.5 682.4 1804.6 702.9 1810.3 718.8 1813.8 737 1811.5 753 1806.9 764.3 1797.8 780.3 1786.4 793.9 1772.8 801.9 1761.4 798.5 1754.6 787.1 1746.6 775.7 1743.2 759.8 1740.9 741.6 1736.4 723.4 1731.8 709.7 1736.4 696.1 1737.5 673.3 1743.2 650.5 1745 616.4 1745 600.5 1745 565.2 1778.5 565.2 1778.5 548.1 1795.5 548.1Z" fill="#97b6e1"/>
<path d="M1899.1 500.3L2025.4 500.3 2025.4 514 2041.3 527.7 2050.4 532.2 2056.1 543.6 2064.1 555 2075.5 559.5 2066.4 566.3 2064.1 580 2057.3 584.5 2045.9 582.3 2032.2 575.4 2023.1 581.1 2017.4 572 2007.2 564.1 2002.6 553.8 1995.8 549.3 1986.7 553.8 1995.8 562.9 2007.2 574.3 2010.6 586.8 2004.9 598.2 2000.4 609.6 1998.1 623.2 2000.4 639.2 2003.8 657.4 2000.4 668.8 1993.5 675.6 1984.4 684.7 1977.6 683.5 1966.2 683.5 1966.2 633.5 1933.2 633.5 1933.2 650.5 1916.2 650.5 1916.2 666.5 1899.1 666.5 1899.1 650.5 1916.2 616.4 1933.2 616.4 1933.2 599.3 1916.2 599.3 1916.2 565.2 1899.1 565.2 1899.1 548.1 1863.8 548.1 1863.8 531.1 1899.1 531.1Z" fill="#97b6e1"/>
<path d="M1966.2 717.7L1984.4 717.7 1984.4 734.7 1966.2 734.7Z" fill="#97b6e1"/>
<path d="M1952.6 753L1977.6 753 1986.7 743.9 2000.4 732.5 2009.5 723.4 2018.6 712 2025.4 706.3 2036.8 701.8 2055 700.6 2070.9 699.5 2077.7 687 2091.4 681.3 2109.6 674.4 2123.3 671 2134.6 671 2136.9 683.5 2119.8 683.5 2119.8 700.6 2102.8 700.6 2102.8 717.7 2085.7 717.7 2085.7 734.7 2051.6 734.7 2051.6 751.6 2034.5 751.6 2034.5 768.7 2000.4 768.7 2000.4 785.7 1950.3 785.7Z" fill="#97b6e1"/>
<path d="M2221.1 567.5L2200.6 577.7 2182.4 586.8 2159.7 595.9 2136.9 605 2116.4 613 2105.1 623.2 2095.9 634.6 2091.4 646 2095.9 654 2107.3 654 2116.4 648.3 2121 644.9 2136.9 638 2159.7 632.8 2189.3 632.3 2221.1 625.1Z" fill="#97b6e1"/>
<path d="M2091.4 566.3L2095.9 573.2 2102.8 578.9 2095.9 586.8 2091.4 593.7 2089.1 586.8 2085.7 582.3 2090.3 575.4Z" fill="#97b6e1"/>
<path d="M2317.8 258.2L2322.3 253.7 2331.4 252.5 2340.5 255.9 2341.7 262.8 2337.1 267.8 2328 268.4 2321.2 265Z" fill="#97b6e1"/>
<path d="M2204 299.2L2210.8 287.8 2222.2 281 2229 276.9 2231.3 285.5 2238.1 290.1 2240.4 294.6 2252.9 296.9 2247.2 299.2 2233.6 298 2229 301.4 2219.9 300.3 2218.8 308.3 2214.2 310.5 2213.1 301.4 2208.6 306 2204 306Z" fill="#97b6e1"/>
<path d="M2222.2 197.9L2227.9 193.3 2232.4 183.1 2234.7 180.8 2233.6 187.7 2229 196.8Z" fill="#97b6e1"/>
<path d="M2357.6 199L2358.8 189.9 2363.3 187.7 2366.7 194.5 2372.4 186.5 2377 180.8 2386.1 180.8 2392.9 180.4 2402 189.9 2397.4 188.8 2390.6 183.1 2383.8 186.5 2374.7 191.1 2370.1 195.6 2363.3 193.3Z" fill="#97b6e1"/>
<path d="M2204 401.6L2209.7 395.9 2214.2 403.9 2213.1 411.8 2204 410.7Z" fill="#97b6e1"/>
<path d="M2614.8 336.7L2617.1 324.2 2620 321.9 2619.3 333.3 2616.4 338.3Z" fill="#97b6e1"/>
<path d="M2199.4 568.6L2213.1 568.6 2226.8 561.8 2233.6 559.5 2239.3 577.7 2237 589.1 2241.6 602.8 2226.8 611.9 2217.7 623.2 2204 627.8 2199.4 628.9Z" fill="#97b6e1"/>
<path d="M2690.5 415.2L2693.9 415.7 2698.5 411.8 2697.3 418.6 2691.6 419.8Z" fill="#97b6e1"/>
<path d="M90.6 649.3 73.5 649.3 73.5 683.3 90.6 683.3 90.6 717.3 73.5 717.3 73.5 785.2 90.6 785.2 90.6 836.1 107.6 836.1 107.6 971.9 124.7 971.9 124.7 1022.9 141.7 1022.9 141.7 1073.8 175.8 1073.8 175.8 1056.8 192.9 1056.8 192.9 1090.8 227 1090.8 227 1107.8 244 1107.8 244 1124.7 295.1 1124.7 295.1 1141.7 312.2 1141.7 312.2 1158.7 329.2 1158.7 329.2 1141.7 346.3 1141.7 346.3 1056.8 397.4 1056.8 397.4 1073.8 380.4 1073.8 380.4 1090.8 397.4 1090.8 397.4 1107.8 414.5 1107.8 414.5 1124.7 448.6 1124.7 448.6 1141.7 465.6 1141.7 465.6 1158.7 499.7 1158.7 499.7 1175.7 550.8 1175.7 550.8 1158.7 567.9 1158.7 567.9 1175.7 602 1175.7 602 1209.6 619 1209.6 619 1226.6 670.2 1226.6 670.2 1243.6 704.3 1243.6 704.3 1260.6 687.2 1260.6 687.2 1277.5 636.1 1277.5 636.1 1294.5 619 1294.5 619 1328.5 567.9 1328.5 567.9 1345.4 550.8 1345.4 550.8 1379.4 619 1379.4 619 1396.4 721.3 1396.4 721.3 1379.4 789.5 1379.4 789.5 1396.4 823.6 1396.4 823.6 1413.4 840.6 1413.4 840.6 1430.3 857.7 1430.3 857.7 1413.4 874.7 1413.4 874.7 1362.4 891.8 1362.4 891.8 1345.4 908.8 1345.4 908.8 1311.5 925.9 1311.5 925.9 1328.5 942.9 1328.5 942.9 1413.4 960 1413.4 960 1430.3 977 1430.3 977 1447.3 1011.1 1447.3 1011.1 1481.3 1028.2 1481.3 1028.2 1549.2 1079.3 1549.2 1079.3 1566.2 1096.4 1566.2 1096.4 1583.1 1113.4 1583.1 1113.4 1634.1 1130.4 1634.1 1130.4 1600.1 1147.5 1600.1 1147.5 1583.1 1164.5 1583.1 1164.5 1566.2 1215.7 1566.2 1215.7 1532.2 1232.7 1532.2 1232.7 1498.2 1249.8 1498.2 1249.8 1481.3 1266.8 1481.3 1266.8 1447.3 1300.9 1447.3 1300.9 1430.3 1352.1 1430.3 1352.1 1413.4 1369.1 1413.4 1369.1 1396.4 1386.2 1396.4 1386.2 1345.4 1318 1345.4 1318 1328.5 1300.9 1328.5 1300.9 1345.4 1266.8 1345.4 1266.8 1328.5 1249.8 1328.5 1249.8 1311.5 1283.9 1311.5 1283.9 1294.5 1300.9 1294.5 1300.9 1277.5 1335 1277.5 1335 1260.6 1352.1 1260.6 1352.1 1243.6 1335 1243.6 1335 1226.6 1352.1 1226.6 1352.1 1209.6 1335 1209.6 1335 1192.6 1352.1 1192.6 1352.1 1158.7 1369.1 1158.7 1369.1 1141.7 1403.2 1141.7 1403.2 1158.7 1420.2 1158.7 1420.2 1141.7 1437.3 1141.7 1437.3 1090.8 1420.2 1090.8 1420.2 1073.8 1403.2 1073.8 1403.2 1090.8 1386.2 1090.8 1386.2 1073.8 1369.1 1073.8 1369.1 1090.8 1352.1 1090.8 1352.1 1073.8 1318 1073.8 1318 1056.8 1232.7 1056.8 1232.7 1039.8 1215.7 1039.8 1215.7 1022.9 1198.6 1022.9 1198.6 1005.9 1181.6 1005.9 1181.6 988.9 1130.4 988.9 1130.4 971.9 1096.4 971.9 1096.4 954.9 1062.3 954.9 1062.3 921 1045.2 921 1045.2 904 1028.2 904 1028.2 870.1 925.9 870.1 925.9 887 908.8 887 908.8 938 925.9 938 925.9 1005.9 908.8 1005.9 908.8 1056.8 891.8 1056.8 891.8 1073.8 874.7 1073.8 874.7 1090.8 891.8 1090.8 891.8 1141.7 874.7 1141.7 874.7 1158.7 857.7 1158.7 857.7 1141.7 840.6 1141.7 840.6 1124.7 806.6 1124.7 806.6 1090.8 789.5 1090.8 789.5 1073.8 738.4 1073.8 738.4 1039.8 721.3 1039.8 721.3 971.9 738.4 971.9 738.4 954.9 772.5 954.9 772.5 938 755.4 938 755.4 904 789.5 904 789.5 870.1 772.5 870.1 772.5 836.1 789.5 836.1 789.5 802.1 840.6 802.1 840.6 717.3 823.6 717.3 823.6 700.3 806.6 700.3 806.6 734.2 789.5 734.2 789.5 751.2 772.5 751.2 772.5 768.2 687.2 768.2 687.2 785.2 670.2 785.2 670.2 853.1 687.2 853.1 687.2 870.1 704.3 870.1 704.3 887 687.2 887 687.2 904 653.1 904 653.1 921 670.2 921 670.2 938 653.1 938 653.1 954.9 619 954.9 619 971.9 567.9 971.9 567.9 954.9 516.8 954.9 516.8 938 499.7 938 499.7 921 482.7 921 482.7 836.1 465.6 836.1 465.6 819.1 448.6 819.1 448.6 768.2 482.7 768.2 482.7 751.2 516.8 751.2 516.8 802.1 584.9 802.1 584.9 785.2 602 785.2 602 751.2 550.8 751.2 550.8 717.3 533.8 717.3 533.8 683.3 499.7 683.3 499.7 666.3 448.6 666.3 448.6 649.3 363.3 649.3 363.3 666.3 346.3 666.3 346.3 683.3 329.2 683.3 329.2 666.3 278.1 666.3 278.1 632.4 261 632.4 261 615.4 244 615.4 244 598.4 227 598.4 227 581.4 192.9 581.4 192.9 564.5 141.7 564.5 141.7 581.4 124.7 581.4 124.7 564.5 107.6 564.5 107.6 615.4 90.6 615.4ZM363.3 1141.7 346.3 1141.7 346.3 1158.7 329.2 1158.7 329.2 1243.6 363.3 1243.6ZM533.8 241.9 465.6 241.9 465.6 258.9 482.7 258.9 482.7 275.8 533.8 275.8ZM619 428.6 584.9 428.6 584.9 445.6 602 445.6 602 462.6 619 462.6ZM533.8 530.5 516.8 530.5 516.8 547.5 533.8 547.5 533.8 581.4 567.9 581.4 567.9 479.6 550.8 479.6 550.8 496.5 533.8 496.5ZM704.3 700.3 721.3 700.3 721.3 717.3 789.5 717.3 789.5 632.4 772.5 632.4 772.5 547.5 721.3 547.5 721.3 581.4 738.4 581.4 738.4 598.4 721.3 598.4 721.3 615.4 704.3 615.4 704.3 632.4 670.2 632.4 670.2 649.3 687.2 649.3 687.2 666.3 670.2 666.3 670.2 683.3 687.2 683.3 687.2 717.3 704.3 717.3ZM1420.2 326.8 1403.2 326.8 1403.2 377.7 1420.2 377.7ZM1352.1 360.7 1318 360.7 1318 377.7 1352.1 377.7ZM1386.2 377.7 1369.1 377.7 1369.1 394.7 1386.2 394.7ZM1437.3 411.7 1437.3 394.7 1386.2 394.7 1386.2 411.7ZM1744.1 615.4 1761.2 615.4 1761.2 598.4 1744.1 598.4ZM1744.1 666.3 1744.1 615.4 1727.1 615.4 1727.1 666.3ZM1846.4 1209.6 1846.4 1192.6 1829.4 1192.6 1829.4 1209.6ZM1420.2 1277.5 1420.2 1260.6 1386.2 1260.6 1386.2 1277.5ZM1795.3 1396.4 1829.4 1396.4 1829.4 1379.4 1846.4 1379.4 1846.4 1328.5 1812.3 1328.5 1812.3 1345.4 1795.3 1345.4ZM1812.3 1515.2 1812.3 1498.2 1829.4 1498.2 1829.4 1481.3 1761.2 1481.3 1761.2 1515.2ZM1147.5 1651 1130.4 1651 1130.4 1668 1147.5 1668Z" fill="#529dc8" fill-rule="evenodd" shape-rendering="crispEdges"/>
<path d="M244 190.9 227 190.9 227 309.8 209.9 309.8 209.9 377.7 192.9 377.7 192.9 411.7 175.8 411.7 175.8 445.6 158.8 445.6 158.8 479.6 141.7 479.6 141.7 496.5 124.7 496.5 124.7 547.5 107.6 547.5 107.6 564.5 124.7 564.5 124.7 581.4 141.7 581.4 141.7 564.5 192.9 564.5 192.9 581.4 227 581.4 227 598.4 244 598.4 244 615.4 261 615.4 261 632.4 278.1 632.4 278.1 666.3 329.2 666.3 329.2 683.3 346.3 683.3 346.3 666.3 363.3 666.3 363.3 649.3 448.6 649.3 448.6 666.3 499.7 666.3 499.7 683.3 533.8 683.3 533.8 717.3 550.8 717.3 550.8 751.2 602 751.2 602 785.2 584.9 785.2 584.9 802.1 516.8 802.1 516.8 751.2 482.7 751.2 482.7 768.2 448.6 768.2 448.6 819.1 465.6 819.1 465.6 836.1 482.7 836.1 482.7 921 499.7 921 499.7 938 516.8 938 516.8 954.9 567.9 954.9 567.9 971.9 619 971.9 619 954.9 653.1 954.9 653.1 938 670.2 938 670.2 921 653.1 921 653.1 904 687.2 904 687.2 887 704.3 887 704.3 870.1 687.2 870.1 687.2 853.1 670.2 853.1 670.2 785.2 687.2 785.2 687.2 768.2 772.5 768.2 772.5 751.2 789.5 751.2 789.5 734.2 806.6 734.2 806.6 700.3 823.6 700.3 823.6 717.3 840.6 717.3 840.6 802.1 789.5 802.1 789.5 836.1 772.5 836.1 772.5 870.1 789.5 870.1 789.5 904 755.4 904 755.4 938 772.5 938 772.5 954.9 738.4 954.9 738.4 971.9 721.3 971.9 721.3 1039.8 738.4 1039.8 738.4 1073.8 789.5 1073.8 789.5 1090.8 806.6 1090.8 806.6 1124.7 840.6 1124.7 840.6 1141.7 857.7 1141.7 857.7 1158.7 874.7 1158.7 874.7 1141.7 891.8 1141.7 891.8 1090.8 874.7 1090.8 874.7 1073.8 891.8 1073.8 891.8 1056.8 908.8 1056.8 908.8 1005.9 925.9 1005.9 925.9 938 908.8 938 908.8 887 925.9 887 925.9 870.1 1028.2 870.1 1028.2 904 1045.2 904 1045.2 921 1062.3 921 1062.3 954.9 1096.4 954.9 1096.4 971.9 1130.4 971.9 1130.4 988.9 1181.6 988.9 1181.6 1005.9 1198.6 1005.9 1198.6 1022.9 1215.7 1022.9 1215.7 1039.8 1232.7 1039.8 1232.7 1056.8 1318 1056.8 1318 1073.8 1352.1 1073.8 1352.1 1090.8 1369.1 1090.8 1369.1 1073.8 1386.2 1073.8 1386.2 1090.8 1403.2 1090.8 1403.2 1073.8 1420.2 1073.8 1420.2 1090.8 1437.3 1090.8 1437.3 1141.7 1420.2 1141.7 1420.2 1158.7 1403.2 1158.7 1403.2 1141.7 1369.1 1141.7 1369.1 1158.7 1352.1 1158.7 1352.1 1192.6 1335 1192.6 1335 1209.6 1352.1 1209.6 1352.1 1226.6 1335 1226.6 1335 1243.6 1352.1 1243.6 1352.1 1260.6 1335 1260.6 1335 1277.5 1300.9 1277.5 1300.9 1294.5 1283.9 1294.5 1283.9 1311.5 1249.8 1311.5 1249.8 1328.5 1266.8 1328.5 1266.8 1345.4 1300.9 1345.4 1300.9 1328.5 1318 1328.5 1318 1345.4 1386.2 1345.4 1386.2 1396.4 1369.1 1396.4 1369.1 1413.4 1352.1 1413.4 1352.1 1430.3 1300.9 1430.3 1300.9 1447.3 1266.8 1447.3 1266.8 1481.3 1249.8 1481.3 1249.8 1498.2 1232.7 1498.2 1232.7 1532.2 1215.7 1532.2 1215.7 1566.2 1164.5 1566.2 1164.5 1583.1 1147.5 1583.1 1147.5 1600.1 1130.4 1600.1 1130.4 1651 1147.5 1651 1147.5 1685 1164.5 1685 1164.5 1735.9 1181.6 1735.9 1181.6 1769.9 1215.7 1769.9 1215.7 1786.9 1266.8 1786.9 1266.8 1803.8 1300.9 1803.8 1300.9 1685 1318 1685 1318 1651 1352.1 1651 1352.1 1634.1 1386.2 1634.1 1386.2 1617.1 1403.2 1617.1 1403.2 1600.1 1420.2 1600.1 1420.2 1583.1 1437.3 1583.1 1437.3 1566.2 1488.4 1566.2 1488.4 1549.2 1539.6 1549.2 1539.6 1566.2 1624.8 1566.2 1624.8 1583.1 1641.9 1583.1 1641.9 1600.1 1658.9 1600.1 1658.9 1583.1 1727.1 1583.1 1727.1 1549.2 1744.1 1549.2 1744.1 1515.2 1761.2 1515.2 1761.2 1481.3 1829.4 1481.3 1829.4 1498.2 1880.5 1498.2 1880.5 1481.3 1897.6 1481.3 1897.6 1498.2 1931.7 1498.2 1931.7 1515.2 1948.7 1515.2 1948.7 1532.2 1982.8 1532.2 1982.8 1515.2 1999.8 1515.2 1999.8 1498.2 2051 1498.2 2051 1515.2 2068 1515.2 2068 1532.2 2085.1 1532.2 2085.1 1549.2 2102.1 1549.2 2102.1 1532.2 2119.2 1532.2 2119.2 1498.2 2136.2 1498.2 2136.2 1481.3 2170.3 1481.3 2170.3 1464.3 2153.3 1464.3 2153.3 1362.4 2170.3 1362.4 2170.3 1328.5 2187.4 1328.5 2187.4 1311.5 2204.4 1311.5 2204.4 1294.5 2221.5 1294.5 2221.5 1277.5 2238.5 1277.5 2238.5 1226.6 2255.5 1226.6 2255.5 1209.6 2289.6 1209.6 2289.6 1192.6 2306.7 1192.6 2306.7 1158.7 2323.7 1158.7 2323.7 1141.7 2357.8 1141.7 2357.8 1124.7 2374.9 1124.7 2374.9 1107.8 2391.9 1107.8 2391.9 1039.8 2374.9 1039.8 2374.9 1022.9 2357.8 1022.9 2357.8 954.9 2374.9 954.9 2374.9 836.1 2391.9 836.1 2391.9 751.2 2409 751.2 2409 734.2 2443.1 734.2 2443.1 717.3 2460.1 717.3 2460.1 700.3 2477.2 700.3 2477.2 666.3 2545.3 666.3 2545.3 615.4 2494.2 615.4 2494.2 581.4 2477.2 581.4 2477.2 564.5 2494.2 564.5 2494.2 513.5 2528.3 513.5 2528.3 496.5 2545.3 496.5 2545.3 479.6 2562.4 479.6 2562.4 462.6 2579.4 462.6 2579.4 445.6 2596.5 445.6 2596.5 394.7 2579.4 394.7 2579.4 377.7 2545.3 377.7 2545.3 326.8 2528.3 326.8 2528.3 292.8 2460.1 292.8 2460.1 326.8 2443.1 326.8 2443.1 428.6 2426 428.6 2426 445.6 2409 445.6 2409 462.6 2374.9 462.6 2374.9 479.6 2306.7 479.6 2306.7 496.5 2272.6 496.5 2272.6 513.5 2255.5 513.5 2255.5 530.5 2238.5 530.5 2238.5 598.4 2221.5 598.4 2221.5 632.4 2119.2 632.4 2119.2 666.3 2136.2 666.3 2136.2 683.3 2119.2 683.3 2119.2 700.3 2102.1 700.3 2102.1 717.3 2085.1 717.3 2085.1 734.2 2051 734.2 2051 751.2 2033.9 751.2 2033.9 768.2 1999.8 768.2 1999.8 785.2 1982.8 785.2 1982.8 768.2 1965.7 768.2 1965.7 785.2 1948.7 785.2 1948.7 734.2 1965.7 734.2 1965.7 717.3 1982.8 717.3 1982.8 683.3 1965.7 683.3 1965.7 632.4 1931.7 632.4 1931.7 649.3 1914.6 649.3 1914.6 615.4 1931.7 615.4 1931.7 598.4 1914.6 598.4 1914.6 564.5 1897.6 564.5 1897.6 547.5 1863.5 547.5 1863.5 530.5 1897.6 530.5 1897.6 513.5 1880.5 513.5 1880.5 496.5 1829.4 496.5 1829.4 479.6 1795.3 479.6 1795.3 496.5 1727.1 496.5 1727.1 479.6 1693 479.6 1693 462.6 1675.9 462.6 1675.9 479.6 1658.9 479.6 1658.9 496.5 1624.8 496.5 1624.8 513.5 1590.7 513.5 1590.7 496.5 1556.6 496.5 1556.6 479.6 1573.7 479.6 1573.7 462.6 1590.7 462.6 1590.7 445.6 1624.8 445.6 1624.8 428.6 1607.8 428.6 1607.8 411.7 1573.7 411.7 1573.7 428.6 1556.6 428.6 1556.6 411.7 1522.5 411.7 1522.5 394.7 1437.3 394.7 1437.3 411.7 1386.2 411.7 1386.2 394.7 1369.1 394.7 1369.1 377.7 1318 377.7 1318 360.7 1062.3 360.7 1062.3 343.7 925.9 343.7 925.9 326.8 908.8 326.8 908.8 360.7 891.8 360.7 891.8 343.7 874.7 343.7 874.7 326.8 823.6 326.8 823.6 309.8 738.4 309.8 738.4 292.8 653.1 292.8 653.1 275.8 584.9 275.8 584.9 258.9 533.8 258.9 533.8 275.8 482.7 275.8 482.7 258.9 465.6 258.9 465.6 224.9 414.5 224.9 414.5 207.9 363.3 207.9 363.3 190.9 312.2 190.9 312.2 207.9 295.1 207.9 295.1 224.9 261 224.9 261 207.9 244 207.9ZM1914.6 666.3 1897.6 666.3 1897.6 649.3 1914.6 649.3ZM1556.6 513.5 1539.6 513.5 1539.6 496.5 1556.6 496.5ZM312.2 224.9 312.2 241.9 295.1 241.9 295.1 224.9ZM789.5 717.3 721.3 717.3 721.3 700.3 704.3 700.3 704.3 717.3 687.2 717.3 687.2 683.3 670.2 683.3 670.2 666.3 687.2 666.3 687.2 649.3 670.2 649.3 670.2 632.4 704.3 632.4 704.3 615.4 721.3 615.4 721.3 598.4 738.4 598.4 738.4 581.4 721.3 581.4 721.3 547.5 772.5 547.5 772.5 632.4 789.5 632.4ZM1727.1 615.4 1744.1 615.4 1744.1 598.4 1761.2 598.4 1761.2 581.4 1744.1 581.4 1744.1 564.5 1778.2 564.5 1778.2 547.5 1795.3 547.5 1795.3 530.5 1846.4 530.5 1846.4 547.5 1829.4 547.5 1829.4 581.4 1795.3 581.4 1795.3 717.3 1812.3 717.3 1812.3 768.2 1795.3 768.2 1795.3 785.2 1778.2 785.2 1778.2 802.1 1761.2 802.1 1761.2 785.2 1744.1 785.2 1744.1 717.3 1727.1 717.3 1727.1 700.3 1744.1 700.3 1744.1 666.3 1727.1 666.3ZM925.9 615.4 925.9 598.4 908.8 598.4 908.8 581.4 891.8 581.4 891.8 564.5 857.7 564.5 857.7 530.5 874.7 530.5 874.7 513.5 925.9 513.5 925.9 530.5 960 530.5 960 547.5 977 547.5 977 615.4ZM584.9 428.6 619 428.6 619 462.6 602 462.6 602 445.6 584.9 445.6ZM567.9 581.4 533.8 581.4 533.8 547.5 516.8 547.5 516.8 530.5 533.8 530.5 533.8 496.5 550.8 496.5 550.8 479.6 567.9 479.6ZM1130.4 802.1 1147.5 802.1 1147.5 819.1 1164.5 819.1 1164.5 853.1 1181.6 853.1 1181.6 870.1 1164.5 870.1 1164.5 887 1130.4 887ZM1846.4 1192.6 1846.4 1209.6 1829.4 1209.6 1829.4 1192.6ZM1420.2 1260.6 1420.2 1277.5 1386.2 1277.5 1386.2 1260.6ZM1982.8 1447.3 1982.8 1379.4 2033.9 1379.4 2033.9 1464.3 2016.9 1464.3 2016.9 1447.3ZM1795.3 1345.4 1812.3 1345.4 1812.3 1328.5 1846.4 1328.5 1846.4 1379.4 1829.4 1379.4 1829.4 1396.4 1795.3 1396.4ZM90.6 870.1 90.6 887 107.6 887 107.6 870.1ZM141.7 1039.8 124.7 1039.8 124.7 1056.8 141.7 1056.8ZM363.3 1243.6 380.4 1243.6 380.4 1260.6 397.4 1260.6 397.4 1277.5 414.5 1277.5 414.5 1294.5 448.6 1294.5 448.6 1311.5 465.6 1311.5 465.6 1328.5 499.7 1328.5 499.7 1345.4 533.8 1345.4 533.8 1362.4 550.8 1362.4 550.8 1345.4 567.9 1345.4 567.9 1328.5 619 1328.5 619 1294.5 636.1 1294.5 636.1 1277.5 687.2 1277.5 687.2 1260.6 704.3 1260.6 704.3 1243.6 670.2 1243.6 670.2 1226.6 619 1226.6 619 1209.6 602 1209.6 602 1175.7 567.9 1175.7 567.9 1158.7 550.8 1158.7 550.8 1175.7 499.7 1175.7 499.7 1158.7 465.6 1158.7 465.6 1141.7 448.6 1141.7 448.6 1124.7 414.5 1124.7 414.5 1107.8 397.4 1107.8 397.4 1090.8 380.4 1090.8 380.4 1073.8 397.4 1073.8 397.4 1056.8 346.3 1056.8 346.3 1141.7 363.3 1141.7ZM175.8 1056.8 175.8 1090.8 192.9 1090.8 192.9 1056.8ZM227 1090.8 192.9 1090.8 192.9 1107.8 209.9 1107.8 209.9 1124.7 227 1124.7 227 1141.7 244 1141.7 244 1158.7 261 1158.7 261 1226.6 295.1 1226.6 295.1 1243.6 329.2 1243.6 329.2 1158.7 312.2 1158.7 312.2 1141.7 295.1 1141.7 295.1 1124.7 244 1124.7 244 1107.8 227 1107.8ZM346.3 1141.7 329.2 1141.7 329.2 1158.7 346.3 1158.7ZM874.7 1413.4 857.7 1413.4 857.7 1464.3 874.7 1464.3 874.7 1481.3 891.8 1481.3 891.8 1532.2 908.8 1532.2 908.8 1549.2 925.9 1549.2 925.9 1566.2 942.9 1566.2 942.9 1583.1 977 1583.1 977 1566.2 994.1 1566.2 994.1 1549.2 1011.1 1549.2 1011.1 1532.2 1028.2 1532.2 1028.2 1481.3 1011.1 1481.3 1011.1 1447.3 977 1447.3 977 1430.3 960 1430.3 960 1413.4 942.9 1413.4 942.9 1328.5 925.9 1328.5 925.9 1311.5 908.8 1311.5 908.8 1345.4 891.8 1345.4 891.8 1362.4 874.7 1362.4ZM1437.3 377.7 1386.2 377.7 1386.2 394.7 1437.3 394.7ZM1675.9 411.7 1658.9 411.7 1658.9 428.6 1675.9 428.6ZM1607.8 496.5 1607.8 479.6 1590.7 479.6 1590.7 496.5ZM1710 445.6 1693 445.6 1693 462.6 1710 462.6ZM2170.3 1481.3 2170.3 1498.2 2187.4 1498.2 2187.4 1481.3ZM2204.4 1515.2 2204.4 1532.2 2221.5 1532.2 2221.5 1515.2Z" fill="#a7d0e4" fill-rule="evenodd" shape-rendering="crispEdges"/>
<path d="M891.8 360.7 908.8 360.7 908.8 326.8 874.7 326.8 874.7 343.7 891.8 343.7ZM857.7 564.5 891.8 564.5 891.8 581.4 908.8 581.4 908.8 598.4 925.9 598.4 925.9 615.4 977 615.4 977 547.5 960 547.5 960 530.5 925.9 530.5 925.9 513.5 874.7 513.5 874.7 530.5 857.7 530.5ZM1147.5 819.1 1147.5 802.1 1130.4 802.1 1130.4 887 1164.5 887 1164.5 870.1 1181.6 870.1 1181.6 853.1 1164.5 853.1 1164.5 819.1ZM1982.8 1447.3 2016.9 1447.3 2016.9 1464.3 2033.9 1464.3 2033.9 1379.4 1982.8 1379.4ZM1744.1 1600.1 1744.1 1583.1 1761.2 1583.1 1761.2 1566.2 1727.1 1566.2 1727.1 1600.1ZM2119.2 1532.2 2102.1 1532.2 2102.1 1634.1 2119.2 1634.1 2119.2 1651 2136.2 1651 2136.2 1685 2153.3 1685 2153.3 1702 2170.3 1702 2170.3 1719 2187.4 1719 2187.4 1735.9 2221.5 1735.9 2221.5 1769.9 2272.6 1769.9 2272.6 1752.9 2289.6 1752.9 2289.6 1702 2272.6 1702 2272.6 1634.1 2255.5 1634.1 2255.5 1600.1 2238.5 1600.1 2238.5 1583.1 2221.5 1583.1 2221.5 1532.2 2204.4 1532.2 2204.4 1515.2 2187.4 1515.2 2187.4 1498.2 2170.3 1498.2 2170.3 1481.3 2136.2 1481.3 2136.2 1498.2 2119.2 1498.2ZM2204.4 1769.9 2204.4 1786.9 2221.5 1786.9 2221.5 1769.9ZM2170.3 1786.9 2187.4 1786.9 2187.4 1769.9 2170.3 1769.9ZM2136.2 1786.9 2153.3 1786.9 2153.3 1769.9 2136.2 1769.9Z" fill="#e1edf3" fill-rule="evenodd" shape-rendering="crispEdges"/>
<path d="M1624.8 428.6 1624.8 445.6 1590.7 445.6 1590.7 462.6 1573.7 462.6 1573.7 479.6 1556.6 479.6 1556.6 496.5 1590.7 496.5 1590.7 513.5 1624.8 513.5 1624.8 496.5 1658.9 496.5 1658.9 479.6 1675.9 479.6 1675.9 462.6 1693 462.6 1693 445.6 1675.9 445.6 1675.9 428.6ZM1590.7 479.6 1607.8 479.6 1607.8 496.5 1590.7 496.5ZM1556.6 513.5 1556.6 496.5 1539.6 496.5 1539.6 513.5Z" fill="#97b6e1" fill-rule="evenodd" shape-rendering="crispEdges"/>
<g fill="none" stroke="#000" stroke-linejoin="round" stroke-linecap="round">
<path d="M235.9 197.9L232.5 208.1 229.1 219.5 228 226.3 233.2 236.6 234.1 242.3 232.5 255.9 230.9 271.9 228 285.5 240 290.5 225.7 292.8 225.2 299.2 231.4 307.1 228 316.2 224.1 319.6 219.5 314.6 223.4 308.7 219.1 319.6 215 326.9 218.2 334.4 214.3 347 209.8 362.9 205.2 370.2 201.8 376.5 195 390.2 188.1 403.9 183.6 413 180.2 426.6 176.8 433.4 172.2 439.1 167.6 449.4 162 463 158.1 472.1 149.4 481.2 142.6 489.2 150.6 487.6 142.6 490.3 138.1 494.9 131.2 504 123.3 514" stroke-width="4.2"/>
<path d="M215.9 326.9L226.8 329.2 234.8 331.5 240.5 338.3 249.6 345.8 239.3 343.5 232.5 338.3 218.9 335.1" stroke-width="4.2"/>
<path d="M235.9 197.9L243.9 204.7 251.9 212.7 261 221.3 268.9 225.2 279.2 229.8 289.4 232.7 294 238.9 304.2 240.5 303.1 249.1 305.3 253.7" stroke-width="4.2"/>
<path d="M234.8 179.7L247.3 191.1 261 201.3 271.2 210 279.2 216.1 283.7 212.7 288.3 213.1 291.7 217.2 292.8 208.1 290.1 201.3 286 203.6 284.9 179.7" stroke-width="4.7"/>
<path d="M317.9 179.7L322.4 187.7 322.9 201.3 326.5 205.9 325.8 215 323.5 221.8 317.9 220.7 321.3 228.6 322.4 235.4 317.9 240 322.9 251.4 317.9 258.2 313.3 263.9 310.6 274.1 307.6 287.8 300.8 291.2 294 294.6 287.1 299.2 281.4 294.6 274.2 292.3 281.4 286 289.4 285.5 292.8 288.9 298.5 281 300.8 269.6 305.3 260.5 309.9 253.7 307.6 244.5 309.9 235.4 314.4 228.6 317.9 220.7" stroke-width="5.3"/>
<path d="M308.7 258.2L298.5 257.1 290.5 262.8 281.4 269.6 274.6 277.5 283.7 279.1 295.1 269.6 304.2 263.9" stroke-width="4.7"/>
<path d="M298.5 205.9L304.2 216.1 309.9 220.7 307.6 212.7 313.3 208.1 308.7 203.6 300.8 208.1" stroke-width="6.5"/>
<path d="M286 180.8L291.7 187.7 295.1 182 313.3 180.8 317.9 185.4" stroke-width="6.5"/>
<path d="M301.9 265L304.2 274.1 301.9 283.2" stroke-width="5.9"/>
<path d="M123.3 514L122.1 523.1 123.3 532.2 118.7 541.3 115.3 550.4 114.2 559.5 117.6 567.5 115.3 575.4 113 580 115.3 589.1 114.2 600.5 109.6 609.6 103.9 617.5 100.5 626.7 94.8 634.6 88 640.3 82.3 647.1 77.8 655.1 76.2 665.3 80 675.6 84.6 687 87.5 700.6 85.7 712 81.6 721.1 78.9 730.2 78.4 741.6 74.8 753 78.9 764.3 83.4 775.7 86.9 783.7 91.4 790.5 92.1 800.7 96 807.6 94.8 812.1 90.3 809.9 88 817.8 94.8 820.1 99.4 828.1 106.2 836 102.8 846.3 100.5 854" stroke-width="4.2"/>
<path d="M106.2 836L109.6 825.8 113 819 118.7 818.5 126.7 825.8 135.8 826.2 144.9 831.5 156.3 837.2 144.9 834.9 131.2 829.2 117.6 829.2 114.2 834.9 117.6 844 118.7 854" stroke-width="4.2"/>
<path d="M135.8 826.9L146 832.6 156.7 837.2" stroke-width="5.9"/>
<path d="M100.5 853L101.7 862.1 99.4 872.3 102.8 882.6 106.2 889.4 115.3 894 119.9 899.7 119.9 907.6 115.3 913.3 109.6 916.7 106.2 923.5 105.7 932.7 109.6 941.8 114.2 953.1 117.6 962.2 119.9 971.3 121 979.3 126.7 987.3 130.1 994.1 134.7 1003.2 132.4 1012.3 136.9 1018 141.5 1023.7 138.1 1032.8 135.8 1041.9 133.5 1048.7 130.8 1054.4 135.8 1062.4 144.9 1065.8 154 1068.1 163.1 1073.7 169.9 1078.3 179 1079.4 185.9 1085.1 192.7 1092 193.8 1099.9 201.8 1106.7 210.9 1112.4 222.3 1115.9 226.8 1121.5 228 1130.6 225.7 1137.5 229.1 1140.9 233.6 1137.5 240.5 1142 245 1148.9 251.9 1158 258.7 1167.1 264.4 1178.4 268.9 1193" stroke-width="4.2"/>
<path d="M111.9 853L116.4 859.8 121 863.2 119.9 855.3" stroke-width="4.7"/>
<path d="M130.1 1089.7L135.8 1087.4 140.3 1094.2 149.4 1096.5 152.9 1099.9 146 1103.3 140.3 1099.9 135.8 1092 130.1 1089.7" stroke-width="4.7"/>
<path d="M156.3 1097.6L163.1 1096.5 169.9 1101.1 175.6 1102.2 174.5 1105.6 165.4 1105.6 158.5 1102.2 156.3 1097.6" stroke-width="4.7"/>
<path d="M212 1151.1L220 1155.7 224.5 1162.5 222.3 1165.9 215.4 1163.6 213.2 1158 212 1151.1" stroke-width="4.7"/>
<path d="M159.7 1148.9L164.2 1147.7 165.8 1152.3 161.3 1153.9 159.7 1148.9" stroke-width="6.5"/>
<path d="M204.1 1178.4L207.5 1177.3 212 1193" stroke-width="5.9"/>
<path d="M268.9 1193L268.9 1202.1 265.5 1215.8 271.2 1221.4 268.9 1229.4 268.9 1240.8 274.6 1252.2 274.6 1263.5 284.9 1277.2 282.6 1282.9 275.7 1282.9 279.2 1285.2 276.9 1293.1 281.4 1302.2 286 1311.3 289.4 1322.7 286 1334.1 291.7 1340.9 296.2 1347.8 295.1 1359.1 292.8 1370.5 300.8 1379.6 300.8 1388.7 298.5 1397.8 295.1 1402.4 299.2 1404.6 299.6 1416 308.7 1427.4 315.6 1434.2 322.4 1443.3 331.5 1449 338.3 1461.5 345.2 1472.9 352 1486.6 358.8 1498 365.6 1507.1 367.9 1518.4 363.4 1527.5 361.1 1533" stroke-width="4.2"/>
<path d="M431.6 1533L421.4 1525.3 419.1 1508.2 414.6 1504.8 411.2 1496.8 404.3 1495.7 404.3 1484.3 402.1 1477.5 395.2 1461.5 386.1 1447.9 379.3 1436.5 370.2 1427.4 363.4 1413.7 362.2 1402.4 366.8 1386.4 366.8 1372.8 366.8 1356.9 363.4 1342.1 367.9 1327.3 373.6 1313.6 372.5 1295.4 381.6 1306.8 390.7 1311.3 399.8 1322.7 408.9 1330.7 415.7 1329.5 419.1 1325 429.4 1331.8 432.8 1338.6 431.6 1345.5 440.7 1350 449.8 1354.6 460.1 1361.4 458.9 1368.2 453.3 1369.4 454.4 1377.3 451 1386.4 452.1 1397.8 456.7 1411.5 460.1 1425.1 460.1 1438.8 463.5 1450.2 466.9 1461.5 471.5 1472.9 470.3 1483.2 477.2 1488.9 477.2 1502.5 481.7 1511.6 488.5 1520.7 491.9 1533" stroke-width="4.2"/>
<path d="M372.5 1296.5L380.4 1306.8 375.9 1310.2" stroke-width="6.5"/>
<path d="M407.7 1454.7L413.4 1454.7 419.1 1463.8 420.3 1471.8 426.6 1476.3 424.8 1493.4 418 1486.6 411.2 1475.2 406.6 1463.8 407.7 1454.7" stroke-width="4.7"/>
<path d="M464.6 1491.1L476 1490 477.2 1502.5 468.1 1520.7 461.2 1516.2 455.5 1510.5 464.6 1491.1" stroke-width="4.7"/>
<path d="M300.8 1506.6L304.2 1511.6 303.1 1523 298.5 1529.4 290.5 1521.8 297.4 1516.2 298.5 1509.3 300.8 1506.6" stroke-width="4.7"/>
<path d="M146 1411L151.7 1412.6 152.2 1422.9 148.3 1430.1 144.9 1429.7 143.3 1418.3 146 1411" stroke-width="4.7"/>
<path d="M206.3 1193L215.4 1193" stroke-width="6.5"/>
<path d="M362.2 1532L356.5 1541.1 348.6 1546.8 346.3 1550.2 336.1 1552.5 327 1551.3 315.6 1545.7 305.3 1542.2 303.1 1545.7 305.3 1551.3 311 1557 316.7 1565 325.8 1575.2 327 1584.3 328.1 1588.9 333.8 1593.4 342.9 1598 348.6 1608.2 356.5 1612.8 361.1 1623 366.8 1631 378.2 1628.7 387.3 1631 395.2 1623 394.1 1634.4 397.5 1645.8 406.6 1657.2 414.6 1667.4 429.4 1677.6 433.9 1691.3 437.3 1702.7 436.2 1718.6 437.3 1727.7 431.6 1741.4 429.4 1752.7 425.9 1759.6 429.4 1766.4 438.5 1777.8 440.7 1786.9 447.6 1790.3 454.4 1800.5 465.8 1814.2 477.2 1825.6 486.3 1839.2 495.4 1850.6 506.7 1862 515.8 1872" stroke-width="4.2"/>
<path d="M429.4 1738L424.8 1750.5 420.3 1761.9 414.6 1767.5 420.3 1771 422.5 1782.3 424.8 1786.9 433.9 1786.9 443 1801.7" stroke-width="5.3"/>
<path d="M348.6 1549.1L354.3 1549.1 353.1 1557 355.4 1566.1 349.7 1563.9 344 1555.9 348.6 1549.1" stroke-width="4.7"/>
<path d="M555.7 1872L553.4 1862 550 1850.6 543.2 1839.2 534 1827.9 524.9 1818.7 523.8 1827.9 519.3 1834.7 517 1827.9 510.2 1825.6 504.5 1816.5 502.2 1805.1 503.3 1793.7 509 1782.3 506.7 1771 501 1759.6 497.6 1748.2 497.6 1736.8 490.8 1732.3 486.3 1720.9 485.1 1709.5 487.4 1695.9 485.1 1682.2 482.8 1668.5 481.7 1656 471.5 1643.5 469.2 1659.4 465.8 1645.8 460.1 1634.4 462.4 1627.6 453.3 1618.5 449.8 1609.4 449.8 1596.9 443 1588.9 433.9 1577.5 429.4 1570.7 431.6 1554.8 432.8 1541.1 431.2 1532" stroke-width="4.2"/>
<path d="M465.8 1645.8L468.1 1657.2 471.5 1662.9" stroke-width="7.1"/>
<path d="M491.3 1532L497.6 1545.7 509 1554.8 515.8 1573 524.9 1584.3 534 1588.9 543.2 1588.9 553.4 1594.6 547.7 1604.8 546.6 1618.5 550 1629.9 556.8 1639 568.2 1645.8 577.3 1650.3 578.4 1664 582.1 1675.4" stroke-width="4.2"/>
<path d="M489.7 1714.1L495.4 1702.7 501 1701.5" stroke-width="6.5"/>
<path d="M511.3 1768.7L517 1773.2 518.1 1782.3 512.4 1778.9 511.3 1768.7" stroke-width="4.7"/>
<path d="M547.7 1823.3L552.3 1834.7" stroke-width="7.7"/>
<path d="M568 1644.7L577.1 1649.2 577.1 1659.4 579.4 1670.8 583.9 1676.5 598.7 1677.6 609 1691.3 610.1 1702.7 614.7 1710.6 609 1707.2 602.1 1711.8 593 1720.9 591.9 1741.4 596.4 1749.3 603.3 1751.6 612.4 1750.5 622.6 1744.8 616.9 1752.7 609 1756.2 610.1 1760.7 624.9 1758.4 626 1767.5 640.8 1778.9 646.5 1784.6 659 1791.4 664.7 1797.1 659 1799.4 649.9 1792.6 652.2 1800.5 662.4 1815.3 661.3 1823.3 665.9 1827.9 675 1833.5 686.3 1835.8 690.9 1840.4 688.6 1847.2 672.7 1835.8 690.9 1852.9 711.4 1872" stroke-width="4.2"/>
<path d="M1673.1 1574.1L1663.7 1579.8 1658 1586.6 1643.3 1583.2 1627.3 1578.7 1636.4 1575.2 1629.6 1568.4 1628.5 1561.6 1618.2 1560.4 1611.4 1555.9 1604.6 1549.1 1595.5 1549.1 1592 1545.7 1584.1 1549.1 1579.5 1554.8 1579.5 1560.4 1568.2 1563.9 1554.5 1562.7 1540.8 1559.3 1529.5 1553.6 1515.8 1550.2 1499.9 1551.3 1488.5 1553.6 1477.1 1558.2 1465.7 1561.6 1454.4 1567.3 1443 1573 1438.4 1576.4 1427.1 1584.3 1415.7 1593.4 1413.4 1598 1402 1607.1 1390.6 1613.9 1381.5 1619.6 1370.2 1626.4 1361.1 1629.9 1354.2 1634.4 1345.1 1643.5 1331.5 1651.5 1322.4 1656 1313.3 1664 1308.7 1670.8 1306.4 1677.6 1299.6 1686.8 1295.1 1695.9 1290.5 1707.2 1288.2 1714.1 1287.1 1725.4 1288.2 1736.8 1290.5 1748.2 1293.9 1759.6 1297.3 1773.2 1299.6 1786.9 1300.8 1793.7 1299.6 1805.1 1297.3 1814.2 1292.8 1823.3 1286 1834.7 1280.3 1848.3 1275.7 1862 1273.4 1872" stroke-width="4.2"/>
<path d="M1579.5 1554.8L1585.2 1559.3 1593.2 1557 1601.2 1561.6 1596.6 1568.4 1586.4 1563.9 1579.5 1560.4" stroke-width="4.2"/>
<path d="M1433.9 1578.7L1427.1 1575.2 1422.5 1566.1 1420.2 1557 1427.1 1557 1429.3 1561.6 1431.6 1554.8 1437.3 1554.8 1438.4 1563.9 1436.2 1568.4 1445.3 1566.1 1449.8 1568.4" stroke-width="4.2"/>
<path d="M1415.7 1594.6L1427.1 1587.8 1436.2 1579.8" stroke-width="6.5"/>
<path d="M1367.9 1625.3L1356.5 1624.2 1345.1 1623 1339.4 1627.6 1333.7 1619.6 1331.5 1620.8 1337.2 1634.4 1340.6 1639 1329.2 1643.5 1324.6 1637.8 1321.2 1650.3" stroke-width="4.2"/>
<path d="M1354.2 1634.9L1367.9 1627.1" stroke-width="5.9"/>
<path d="M1322.4 1656L1345.1 1642.4" stroke-width="5.9"/>
<path d="M1301.9 1656L1313.3 1654.9 1315.5 1650.3 1308.7 1662.9 1299.6 1670.8 1288.2 1673.1 1286 1675.4 1295.1 1686.8" stroke-width="4.2"/>
<path d="M1308.7 1670.8L1314.4 1660.6" stroke-width="5.9"/>
<path d="M1286 1707.2L1276.9 1707.2 1270 1700.4 1266.6 1698.1 1270 1710.6 1283.7 1714.1 1278 1730 1281.4 1743.6 1283.7 1759.6 1288.2 1771 1295.1 1784.6 1299.6 1789.2" stroke-width="4.2"/>
<path d="M1288.2 1714.1L1292.8 1695.9 1307.6 1676.5" stroke-width="5.3"/>
<path d="M1486.2 1541.1L1480.5 1551.3" stroke-width="6.5"/>
<path d="M1490.8 1533.1L1491.9 1536.6" stroke-width="5.9"/>
<path d="M1272.8 1872.9L1269.8 1884.3 1267.1 1895.6 1264.8 1909.3 1263 1922.9 1261.9 1942.2" stroke-width="4.2"/>
<path d="M1954.9 193.3L1964 184.2 1971.2 179" stroke-width="5.9"/>
<path d="M1984.4 179L1995.8 184.2 2007.2 193.3 2019 204" stroke-width="5.3"/>
<path d="M1715.9 1516.2L1725 1509.3 1731.8 1504.8 1738.7 1503.6 1754.6 1498 1761.4 1500.2 1768.2 1501.4 1781.9 1499.1 1795.5 1498 1796.7 1486.6 1800.1 1477.5 1804.6 1480.9 1806.9 1491.1 1813.8 1496.8 1818.3 1501.4 1827.4 1500.2 1828.5 1493.4 1832 1491.1 1834.2 1498 1845.6 1494.5 1847.9 1484.3 1852.4 1482 1851.3 1486.6 1857 1479.7 1859.3 1488.9 1870.6 1487.7 1877.5 1484.3 1886.6 1480.9 1896.8 1479.7 1903.6 1483.2 1895.7 1485.4 1886.6 1486.6 1900.2 1488.9 1909.3 1491.1 1918.4 1494.5 1925.3 1496.8 1928.7 1488.9 1933.2 1488.9 1932.1 1496.8 1938.9 1502.5 1945.7 1507.1 1951.4 1511.6 1952.6 1520.7 1950.3 1524.1 1961.7 1520.7 1970.8 1518.4 1977.6 1515 1984.4 1516.2 1993.5 1504.8 2002.6 1502.5 2001.5 1495.7 2007.2 1491.1 2018.6 1487.7 2027.7 1491.1 2041.3 1496.8 2050.4 1507.1 2059.5 1516.2 2068.6 1523 2080 1529.8 2084.6 1533" stroke-width="4.2"/>
<path d="M1886.6 1481.6L1896.8 1480.2 1903.6 1483.6 1895.7 1485.9 1886.6 1486.6" stroke-width="5.3"/>
<path d="M1948 1516.2L1951.4 1523" stroke-width="7.1"/>
<path d="M1966.2 1526.4L1975.3 1521.8 1984.4 1516.6" stroke-width="5.9"/>
<path d="M1672.7 1521.8L1679.5 1509.3 1686.3 1505.9 1693.1 1507.1 1697.7 1511.6 1706.8 1513.9 1715.9 1516.2 1704.5 1520.7 1695.4 1525.3 1686.3 1528.7 1677.2 1526.4 1672.7 1521.8" stroke-width="4.2"/>
<path d="M1704.5 1527.5L1711.3 1520.7 1718.2 1527.5 1727.3 1520.7 1736.4 1516.2 1738.7 1523 1731.8 1527.5 1722.7 1533" stroke-width="5.3"/>
<path d="M1756.9 1520.7L1761.4 1527.5 1760.3 1533" stroke-width="5.9"/>
<path d="M1764.8 1508.2L1771.7 1509.8" stroke-width="5.9"/>
<path d="M1786.4 1508.2L1800.1 1505.9" stroke-width="5.9"/>
<path d="M1804.6 1504.8L1818.3 1502.5" stroke-width="5.9"/>
<path d="M2219.1 1278.3L2214.3 1284 2207.5 1285.2 2212 1288.6 2205.2 1295.4 2198.4 1300 2191.5 1304.5 2184.7 1306.8 2175.6 1309.1 2182.4 1315.9 2184.7 1320.4 2177.9 1325 2171 1323.9 2167.6 1315.9 2168.8 1329.5 2166.5 1340.9 2159.7 1352.3 2156.3 1356.9 2159.7 1361.4 2155.1 1368.2 2157.4 1375.1 2151.7 1386.4 2155.1 1393.3 2148.3 1400.1 2147.2 1411.5 2148.3 1425.1 2152.8 1432 2157.4 1443.3 2161.9 1454.7 2168.8 1470.6 2175.6 1486.6 2182.4 1498 2191.5 1511.6 2200.6 1523 2209.7 1533" stroke-width="4.2"/>
<path d="M2148.3 1411.5L2149.4 1426.3" stroke-width="6.5"/>
<path d="M1659 1586.6L1663.6 1579.8 1670.4 1575.2 1679.5 1576.4 1684 1583.2 1687.4 1587.8 1693.1 1584.3 1695.4 1575.2 1696.6 1565 1688.6 1559.3 1697.7 1560.4 1706.8 1563.9 1711.3 1570.7 1720.4 1573 1727.3 1577.5 1731.8 1584.3 1735.2 1591.2 1738.7 1585.5 1744.3 1585.5 1747.8 1588.9 1750 1582.1 1754.6 1577.5 1750 1573 1745.5 1568.4 1736.4 1567.3 1727.3 1565 1718.2 1560.4 1712.5 1553.6 1715.9 1547.9 1722.7 1546.8 1720.4 1542.2 1731.8 1540 1731.8 1532" stroke-width="4.2"/>
<path d="M1707.9 1532L1713.6 1534.3 1720.4 1533.1" stroke-width="6.5"/>
<path d="M1754.6 1546.8L1760.3 1538.8 1761.4 1532" stroke-width="5.9"/>
<path d="M2075.5 1532L2086.8 1538.8 2098.2 1545.7 2106.2 1553.6 2108.5 1563.9 2109.6 1577.5 2107.3 1591.2 2106.2 1604.8 2106.2 1618.5 2110.7 1625.3 2118.7 1625.3 2121 1616.2 2114.2 1610.5 2125.5 1615.1 2131.2 1613.9 2131.2 1619.6 2125.5 1629.9 2121 1637.8 2116.4 1640.1 2123.3 1645.8 2130.1 1656 2136.9 1666.3 2143.7 1673.1 2150.6 1676.5 2155.1 1675.4 2152.8 1669.7 2161.9 1667.4 2163.1 1677.6 2164.2 1689 2159.7 1693.6 2157.4 1698.1 2164.2 1702.7 2168.8 1691.3 2175.6 1682.2 2171 1695.9 2175.6 1698.1 2180.2 1709.5 2184.7 1718.6 2191.5 1725.4 2200.6 1730 2209.7 1731.1 2214.3 1736.8 2219.1 1741.4" stroke-width="4.2"/>
<path d="M2156.3 1692.4L2160.8 1700.4 2165.4 1701.5" stroke-width="6.5"/>
<path d="M2169.9 1694.7L2174.5 1684.5" stroke-width="5.9"/>
<path d="M2207.5 1543.4L2214.3 1559.3 2219.1 1566.1" stroke-width="5.9"/>
<path d="M2198.8 1817.6L2204 1815.3" stroke-width="7.1"/>
<path d="M2208.6 1813.1L2214.3 1807.8" stroke-width="7.7"/>
<path d="M2465.7 179L2454.3 192.2 2445.2 208.1 2439.5 226.3 2436.1 240 2429.3 253.7 2428.2 265 2425.9 278.7 2420.2 294.6 2412.2 310.5 2408.8 324.2 2399.7 337.9 2396.3 347" stroke-width="4.2"/>
<path d="M2509 179L2495.3 192.2 2481.6 205.9 2470.3 217.2 2458.9 230.9 2452.1 244.5 2443 262.8 2438.4 278.7 2431.6 296.9 2427 310.5 2422.5 324.2 2415.6 333.3 2406.5 343.5 2396.3 353.8 2386.1 361.8 2374.7 369.7 2363.3 382.2 2356.5 391.3 2347.4 402.7 2337.1 410.7 2331.4 422.1 2328.7 433.4 2324.6 447.1 2323.5 460.7 2317.8 467.6 2304.1 476.7 2295 488.1 2282.5 501.7" stroke-width="4.2"/>
<path d="M2429.3 254.8L2408.8 254.1 2392.9 255.5 2381.5 257.7 2371.3 255.9" stroke-width="5.9"/>
<path d="M2406.5 343.5L2396.3 353.8 2386.1 361.8 2374.7 369.7 2363.3 382.2" stroke-width="5.9"/>
<path d="M2363.3 382.2L2356.5 391.3 2347.4 402.7 2337.1 410.7 2331.4 422.1 2328.7 433.4" stroke-width="5"/>
<path d="M2324.6 447.1L2313.2 450.5 2307.5 461.2 2317.8 464.2 2323.5 459.6" stroke-width="5.3"/>
<path d="M2288.2 464.2L2304.1 465.8 2317.8 467.6" stroke-width="5.3"/>
<path d="M2618.2 179L2613.6 189.9 2604.5 199 2595.4 203.6 2572.7 203.6 2568.1 210.4 2559 215 2549.9 219.5 2544.2 225.2 2554.5 217.2 2568.1 218.4 2586.3 219.5 2595.4 227.5 2602.3 219.5 2613.6 210.4 2627.3 210.4 2629.6 196.8 2633 192.2 2634.1 203.6 2627.3 215 2629.6 230.9 2625 244.5 2619.3 255.9 2631.8 251.4 2638.7 253.7 2643.2 265 2654.6 276.4 2666 287.8 2670.5 292.3 2693.3 286.7 2700.1 287.8 2693.3 299.2" stroke-width="4.2"/>
<path d="M2586.3 392.5L2600 393.6 2613.6 387.9 2625 378.8 2629.6 362.9 2631.8 372 2640.9 369.7 2654.6 356.1 2668.3 340.1 2677.4 324.2 2679.6 315.1 2672.8 310.5 2686.5 310.5 2693.3 300.3" stroke-width="4.2"/>
<path d="M2586.3 392.5L2595.4 399.3 2597.7 408.4 2604.5 410.7 2600 419.8 2590.9 426.6 2581.8 435.7 2575 438 2572.7 449.4 2563.6 447.1 2554.5 453.9 2545.4 463 2536.3 451.6 2531.7 460.7 2534 476.7 2531.7 488.1 2522.6 492.6 2511.2 501.7 2499.9 510.8 2495.3 514" stroke-width="4.2"/>
<path d="M2611.4 408.4L2614.8 410.7 2614.8 418.6 2611.4 419.8 2609.5 414.1 2611.4 408.4" stroke-width="5.3"/>
<path d="M2556.7 450.5L2563.6 453.9 2562.4 460.7 2556.7 461.9 2555.6 455.1 2556.7 450.5" stroke-width="4.7"/>
<path d="M2546.5 469.9L2549.9 471" stroke-width="6.5"/>
<path d="M2509 498.3L2516.9 497.2" stroke-width="6.5"/>
<path d="M2495.3 514L2491.9 523.1 2495.3 527.7 2491.9 536.8 2487.3 548.1 2486.2 557.2 2481.6 564.1 2482.8 575.4 2486.2 582.3 2493 586.8 2497.6 588 2488.5 593.7 2486.2 602.8 2482.8 611.9 2493 613 2499.9 617.5 2506.7 625.5 2512.4 627.8 2515.8 633.5 2522.6 635.8 2531.7 634.6 2538.5 630.1 2536.3 623.2 2529.4 616.4 2522.6 614.1 2524.9 613 2534 617.5 2540.8 625.5 2544.2 634.6 2531.7 641.4 2522.6 648.3 2515.8 652.8 2512.4 643.7 2506.7 649.4 2499.9 656.2 2493 659.6 2486.2 664.2 2479.4 659.6 2480.5 650.5 2481.6 671 2477.1 675.6 2465.7 681.3 2454.3 685.8 2443 690.4 2431.6 693.8 2420.2 697.2 2413.4 702.9 2404.3 709.7 2395.2 718.8 2388.3 727.9 2383.8 737 2380.4 743.9 2373.5 753 2372.4 759.8 2377 762.1 2383.8 759.8 2388.3 764.3 2390.6 775.7 2391.8 787.1 2392.9 800.7 2390.6 814.4 2383.8 819 2381.5 828.1 2377 832.6 2374.7 844 2372.4 854" stroke-width="4.2"/>
<path d="M2522.6 614.1L2529.4 616 2536.7 622.8 2539.7 630.1" stroke-width="6.5"/>
<path d="M2479.4 649.4L2482.8 659.6 2488.5 650.5 2487.3 661.9 2482.8 666.5" stroke-width="5.9"/>
<path d="M2373.5 713.1L2379.2 718.8 2381.5 730.2 2380.4 743.9" stroke-width="4.7"/>
<path d="M2383.8 750.7L2390.6 743.9 2397.4 732.5 2408.8 725.6 2420.2 720 2431.6 715.4 2440.7 712 2447.5 700.6 2450.9 697.2 2445.2 707.4 2454.3 704 2469.1 697.2 2461.2 705.2 2449.8 714.3 2440.7 723.4 2431.6 730.2 2417.9 739.3 2408.8 741.6 2397.4 747.3 2386.1 751.8 2383.8 750.7" stroke-width="4.2"/>
<path d="M2441.8 712L2450.9 698.3" stroke-width="5.9"/>
<path d="M2387.2 748.4L2391.8 746.1" stroke-width="7.1"/>
<path d="M2510.1 665.3L2514.6 659.6 2522.6 657.4 2524.9 659.6 2519.2 664.2 2513.5 667.6 2510.1 665.3" stroke-width="4.2"/>
<path d="M2537.4 660.8L2545.4 651.7 2551.1 658.5 2545.4 661.9 2537.4 660.8" stroke-width="4.2"/>
<path d="M2388.8 787.1L2392.9 800.7 2391.1 815.5" stroke-width="5.9"/>
<path d="M2345.1 798.5L2338.3 807.6 2331.4 812.1 2328 821.2 2328 830.3 2331.4 837.2 2338.3 844 2349.6 848.5 2363.3 849.7 2366.7 854" stroke-width="4.2"/>
<path d="M2328 830.3L2333.7 844 2340.5 854" stroke-width="4.2"/>
<path d="M2331.4 812.1L2328 821.2 2328 831.5" stroke-width="5.9"/>
<path d="M2295 850.8L2301.9 841.7 2309.8 835.3 2311 841.7 2304.1 848.5" stroke-width="5.9"/>
<path d="M2375.8 853L2371.3 859.8 2365.6 862.1 2366.7 853" stroke-width="4.2"/>
<path d="M2340.5 853L2349.6 862.1 2358.8 868.9 2363.3 875.8 2364.4 882.6 2367.9 889.4 2370.1 896.2 2369 905.3 2366.7 919 2363.3 930.4 2361 939.5 2358.8 950.9 2354.2 955.4 2349.6 962.2 2348.5 971.3 2347.4 980.4 2342.8 975.9 2341.7 962.2 2342.8 948.6 2346.2 937.2 2349.6 925.8 2340.5 921.3 2341.7 930.4 2338.3 928.1 2336 919 2333.7 907.6 2326.9 912.2 2317.8 907.6 2311 900.8 2313.2 894 2322.3 894 2313.2 889.4 2306.4 887.1 2305.3 878 2308.7 871.2 2304.1 864.4 2306.4 853" stroke-width="4.2"/>
<path d="M2366.7 898.5L2369 912.2 2364.4 929.2" stroke-width="6.5"/>
<path d="M2295 853L2288.2 862.1 2293.9 868.9 2291.6 875.8 2295 884.9 2297.3 898.5 2301.9 909.9 2308.7 912.2" stroke-width="4.2"/>
<path d="M2304.1 857.6L2306.4 866.7 2303 875.8 2306.4 887.1" stroke-width="5.9"/>
<path d="M2272.3 891.7L2265.4 903.1 2263.2 916.7 2267.7 921.3 2276.8 914.4 2283.7 916.7 2288.2 921.3 2299.6 923.5 2308.7 925.8 2315.5 928.1" stroke-width="5.3"/>
<path d="M2290.5 900.8L2297.3 907.6 2306.4 912.2" stroke-width="5.3"/>
<path d="M2276.8 931.5L2290.5 941.8 2301.9 948.6 2315.5 953.1 2322.3 950.9 2322.3 941.8 2315.5 934.9 2304.1 932.7 2295 928.1 2283.7 921.3" stroke-width="4.7"/>
<path d="M2276.8 932.2L2290.5 942.2 2302.3 949.7" stroke-width="6.5"/>
<path d="M2303 966.8L2311 975.9 2320.1 980.4 2328 971.3 2329.2 964.5 2324.6 960 2317.8 960 2315.5 953.1" stroke-width="4.2"/>
<path d="M2281.4 983.9L2295 982.7 2306.4 986.1 2315.5 989.5 2324.6 996.4 2331.4 994.1 2332.6 987.3 2326.9 982.7 2320.1 980.4" stroke-width="4.7"/>
<path d="M2281.4 983.9L2295 983.2 2306.4 986.8" stroke-width="6.5"/>
<path d="M2324.6 1000.9L2333.7 994.1 2347.4 994.1 2351.9 1000.9 2356.5 1010 2363.3 1023.7 2370.1 1035.1 2379.2 1046.4 2386.1 1055.5 2392.9 1066.9 2396.3 1078.3 2397.4 1085.1 2390.6 1090.8" stroke-width="4.7"/>
<path d="M2351.9 1007.8L2355.3 1021.4 2363.3 1032.8 2372.4 1041.9 2381.5 1051 2386.1 1055.5" stroke-width="4.7"/>
<path d="M2381.5 1096.5L2374.7 1101.1" stroke-width="5.3"/>
<path d="M2322.3 1043L2324.6 1051 2326.9 1060.1 2338.3 1057.8 2349.6 1053.3 2361 1051 2367.9 1048.7 2373.5 1053.3 2377 1062.4 2374.7 1071.5 2367.9 1080.6 2363.3 1087.4 2354.2 1088.5 2345.1 1087.4 2340.5 1084 2338.3 1089.7 2326.9 1090.8 2316.7 1088.5" stroke-width="4.2"/>
<path d="M2340.5 1048.7L2345.1 1041.9 2351.9 1039.6 2349.6 1035.1 2361 1035.1 2370.1 1041.9" stroke-width="4.2"/>
<path d="M2362.2 1054.4L2364.4 1062.4 2362.8 1068.1" stroke-width="7.1"/>
<path d="M2326.9 1090.8L2340.5 1094.2 2347.4 1098.8 2345.1 1110.2 2340.5 1117 2333.7 1118.1 2326.9 1117 2321.2 1111.3" stroke-width="4.2"/>
<path d="M2333.7 1118.1L2345.1 1117 2354.2 1113.6 2359.9 1117 2356.5 1126.1 2349.6 1130.6 2345.1 1131.8 2354.2 1137.5 2361 1123.8 2367.9 1114.7" stroke-width="4.2"/>
<path d="M2345.1 1131.8L2336 1136.3 2324.6 1138.6 2317.8 1146.6 2313.2 1148.9 2309.8 1140.9 2312.1 1151.1 2315.5 1153.4 2306.4 1162.5 2299.6 1171.6 2295 1180.7 2292.8 1193" stroke-width="4.2"/>
<path d="M2291.6 1180.7L2293.2 1193" stroke-width="6.5"/>
<path d="M2293.2 1193L2290.5 1197.6 2272.3 1201 2263.2 1206.7 2254.1 1215.8 2248.4 1222.6 2243.8 1234 2240.4 1243.1 2239.3 1252.2 2234.7 1259 2229 1265.8 2222.2 1270.4 2222.2 1276.1 2215.4 1284 2208.6 1285.2 2209.7 1290.9 2204 1297.7" stroke-width="4.2"/>
<path d="M2235.9 1241.9L2238.1 1248.8 2238.1 1254.4" stroke-width="7.1"/>
<path d="M2293.9 1193L2295 1195.7" stroke-width="7.1"/>
<path d="M2204 1534.3L2213.1 1543.4 2222.2 1552.5 2229 1557 2226.8 1566.1 2229 1577.5 2238.1 1591.2 2249.5 1609.4 2260.9 1627.6 2264.3 1636.7 2270 1645.8 2274.5 1657.2 2276.8 1668.5 2278.6 1686.8 2280.2 1705 2282.5 1718.6 2278 1720.9 2276.8 1730 2273.4 1736.8 2274.5 1748.2 2271.1 1756.2 2266.6 1760.7 2260.9 1761.9 2254.1 1766.4 2247.2 1767.5 2240.4 1771 2233.6 1772.1 2229 1767.5 2230.2 1761.9 2235.9 1759.6 2229 1757.3 2224.5 1750.5 2217.7 1741.4 2212 1732.3 2204 1731.1" stroke-width="4.2"/>
<path d="M2206.3 1543.4L2217.7 1561.6 2226.8 1577.5 2238.1 1595.7 2249.5 1613.9 2260.9 1632.1" stroke-width="6.5"/>
<path d="M2231.3 1760.7L2240.4 1764.1" stroke-width="7.1"/>
<path d="M2280.2 1751.6L2274.5 1766.4 2268.9 1777.8 2262 1783.5" stroke-width="6.5"/>
<path d="M2250.7 1791.4L2256.3 1788.7" stroke-width="7.7"/>
<path d="M2235.9 1800.5L2247.2 1796" stroke-width="7.7"/>
<path d="M2219.9 1801.7L2226.8 1807.8" stroke-width="7.7"/>
<path d="M2209.7 1808.5L2214.2 1810.8" stroke-width="7.7"/>
<path d="M2201.7 1816.5L2205.1 1814.9" stroke-width="7.7"/>
<path d="M2333.7 1651.5L2349.6 1660.6 2363.3 1654.9 2379.2 1645.8 2395.2 1640.1 2394 1635.5 2381.5 1639 2367.9 1641.2 2356.5 1640.1 2354.2 1648.1 2345.1 1654.9 2333.7 1651.5" stroke-width="5.3"/>
<path d="M2389.5 1625.3L2397.4 1620.8 2413.4 1620.8 2422.5 1627.6 2431.6 1634.4 2443 1637.8 2449.8 1650.3 2444.1 1659.4 2446.4 1677.6 2443 1679.9 2432.7 1674.2 2439.5 1665.1 2437.3 1650.3 2436.1 1639 2424.7 1635.5 2413.4 1625.3 2399.7 1624.2 2389.5 1625.3" stroke-width="5.3"/>
<path d="M2397.4 1734.5L2408.8 1735.7 2415.6 1741.4 2422.5 1752.7 2433.9 1761.9 2437.3 1773.2 2429.3 1782.3 2422.5 1791.4 2415.6 1782.3 2404.3 1781.2 2392.9 1775.5 2399.7 1772.1 2404.3 1771 2399.7 1764.1 2404.3 1750.5 2397.4 1734.5" stroke-width="4.7"/>
<path d="M2424.7 1792.6L2440.7 1786.9 2449.8 1792.6 2455.5 1802.8 2458.9 1811.9 2456.6 1821 2444.1 1822.2 2440.7 1814.2 2433.9 1802.8 2424.7 1792.6" stroke-width="4.7"/>
<path d="M2437.3 1736.8L2445.2 1732.3 2455.5 1732.3 2452.1 1736.8 2443 1740.2 2437.3 1736.8" stroke-width="4.7"/>
<path d="M2477.1 1693.6L2476 1703.8 2483.9 1701.5 2495.3 1705 2504.4 1706.1 2515.8 1714.1 2516.9 1730 2511.2 1734.5 2524.9 1743.6 2522.6 1727.7 2520.3 1714.1 2502.1 1702.7 2488.5 1700.4 2477.1 1693.6" stroke-width="5.3"/>
<path d="M2546.5 1734.5L2552.2 1733.4 2563.6 1745.9 2581.8 1760.7 2569.3 1766.4 2572.7 1759.6 2559 1748.2 2546.5 1734.5" stroke-width="5.3"/>
<path d="M2626.2 1751.6L2630.7 1749.3 2633.7 1753.9 2631.4 1762.3 2626.8 1761.9 2626.2 1751.6" stroke-width="5.3"/>
<path d="M2659.2 1829L2666 1835.8 2679.6 1835.8 2688.7 1829 2693.3 1841.5 2686.5 1855.2 2672.8 1868.8 2684.2 1852.9 2688.7 1842.6 2679.6 1838.1 2666 1838.1 2659.2 1829" stroke-width="5.3"/>
<path d="M2546.5 1802.8L2559 1806.2 2572.7 1810.8" stroke-width="7.1"/>
<path d="M2587.5 1792.6L2597.7 1802.8 2609.1 1818.7 2602.3 1822.2 2613.6 1824.4 2625 1825.6 2629.6 1835.8" stroke-width="6.5"/>
<path d="M2735.4 1835.8L2745.6 1833.5 2759.3 1835.8" stroke-width="7.1"/>
<path d="M2440.7 1793.7L2445.2 1796" stroke-width="7.1"/>
<path d="M2692.8 299.2L2707.6 296.9 2730.3 299.2 2750.8 293.5 2755.4 290.1 2762.2 293.5 2773.6 281 2780.4 269.6 2787.2 276.4 2798.6 274.1 2810 267.3 2821.4 270.7 2821.4 299.2 2805.4 315.1 2791.8 328.8 2775.9 344.7 2762.2 356.1 2748.5 367.4 2741.7 362.9 2746.3 374.3 2739.4 378.8 2730.3 374.3 2728.1 383.4 2719 385.6 2721.2 394.7 2719 406.1 2714.4 424.3 2707.6 438 2698.5 444.8 2696.2 458.5 2689.4 463 2682.5 464.2 2673.4 453.9 2666.6 457.3 2659.8 451.6 2653 438 2649.5 424.3 2650.7 410.7 2657.5 397 2664.3 385.6 2673.4 369.7 2684.8 353.8 2696.2 342.4 2707.6 333.3 2721.2 326.5 2737.2 321.9 2725.8 331 2714.4 340.1 2709.9 349.2 2715.5 354.9 2705.3 349.2 2698.5 342.4 2693.9 343.5 2682.5 344.7 2675.7 347 2682.5 328.8 2689.4 308.3 2692.8 299.2" stroke-width="4.2"/>
<path d="M2672.3 235.9L2675.7 244.5 2678 253.7 2684.8 261.6 2696.2 261.6 2707.6 259.3 2721.2 255.9 2737.2 246.8 2753.1 240 2764.5 238.9 2759.9 249.1 2753.1 258.2 2750.8 267.3 2756.5 271.9 2746.3 276.4 2737.2 274.1 2732.6 267.3 2726.9 263.9 2723.5 271.9 2714.4 278.7 2704.2 278.7 2696.2 271.9 2691.6 268.4 2684.8 274.1 2680.3 271.9 2675.7 265 2667.8 265 2664.8 261.6 2667.8 246.8 2672.3 235.9" stroke-width="4.2"/>
<path d="M2807.7 178.6L2798.6 196.8 2795.2 219.5 2792.9 242.3 2798.6 260.5 2807.7 269.6 2821.4 271.9" stroke-width="4.2"/>
<path d="M2814.5 240L2819.1 246.8 2816.8 253.7" stroke-width="7.1"/>
<path d="M2812.3 287.8L2820.2 283.2" stroke-width="6.5"/>
<path d="M2744 183.1L2750.8 189.9 2746.3 194.5 2742.9 189.9 2744 183.1" stroke-width="6.5"/>
<path d="M2643.9 431.2L2645 422.1 2649.5 410.7" stroke-width="5.9"/>
<path d="M2656.4 398.2L2665.5 389.1" stroke-width="7.1"/>
<path d="M2625.6 369.7L2630.2 362.9" stroke-width="6.5"/>
<path d="M2723.5 267.3L2729.2 261.6" stroke-width="6.5"/>
<path d="M2630.2 192.2L2632.5 201.3 2630.2 208.1" stroke-width="6.5"/>
<path d="M2111.2 1943.3L2134.7 1929.8 2161.7 1921.4 2181.9 1911.3 2202.1 1905.2 2229.1 1903.9 2245.9 1899.5 2254.3 1905.2 2269.5 1899.5 2284.6 1896.1 2296.4 1902.8 2309.9 1903.9 2320 1900.5 2336.9 1902.8 2350.3 1911.3 2363.8 1919.7 2377.3 1924.7 2390.7 1923.1 2404.2 1920.7 2421.1 1924.7 2437.9 1929.8 2454.7 1934.8 2468.2 1939.9 2473.3 1943.3" stroke-width="4.2"/>
<path d="M2331.8 1901.8L2336.9 1903.9" stroke-width="5.9"/>
<path d="M2348.6 1903.5L2367.2 1911.9" stroke-width="6.5"/>
<path d="M2407.6 1911.3L2424.4 1906.2 2429.5 1913 2414.3 1913 2407.6 1911.3" stroke-width="5.3"/>
<path d="M2434.5 1911.3L2448 1916.3 2461.5 1924.7 2476.6 1928.1 2475 1936.5 2464.9 1931.5" stroke-width="5.3"/>
<path d="M2481.7 1937.2L2495.2 1941.6" stroke-width="5.9"/>
<path d="M2192 1941.6L2208.8 1937.5 2229.1 1940.9" stroke-width="6.5"/>
<path d="M2759.6 1904.5L2765.3 1911.3 2764 1923.1 2757.9 1929.8 2741.1 1936.5 2729.3 1937.5 2727.6 1929.8 2734.3 1923.1 2747.8 1920.7 2756.2 1914.6 2759.6 1904.5" stroke-width="4.7"/>
<path d="M2757.2 1891.1L2762 1887.7 2766.3 1891.1 2760.6 1895.4 2757.2 1891.1" stroke-width="5.9"/>
<path d="M2793.3 1859.1L2800 1862.4 2807.8 1858" stroke-width="6.5"/>
<path d="M2812.5 1846.6L2820.6 1850" stroke-width="7.1"/>
<path d="M515.6 1872L519.7 1884.7 522 1907.5 526.5 1915.6 544.7 1911.1 558.4 1902.9 565.2 1887 555.6 1872" stroke-width="4.2"/>
<path d="M711.1 1872L722 1889.3 731.1 1907.5 740.2 1925.6 753.8 1942.9" stroke-width="4.2"/>
</g>
<g fill="none" stroke="#000" stroke-width="4.17" stroke-dasharray="4.17 6.88" stroke-linejoin="round">
<path d="M1659 390.2L1672.7 385.6 1677.2 372 1686.3 362.9 1696.6 361.8 1706.8 367.4 1718.2 367.4 1738.7 367.9 1748.9 366.3 1759.1 367.4 1766 375.4 1770.5 385.6 1775.1 394.7 1781.9 405 1789.9 410.7 1800.1 413 1810.3 410.7 1821.7 408.4 1830.8 410.7 1828.5 418.6 1826.3 431.2 1836.5 438 1845.6 444.8 1842.2 456.2 1841.1 467.6 1850.2 468.7 1859.3 471 1857 480.1 1854.7 488.1 1863.8 490.3 1870.6 488.1 1872.9 497.2"/>
<path d="M1786.4 426.6L1795.5 420.9 1800.1 425.5 1791 428.4"/>
<path d="M1659 410.7L1672.7 403.9 1686.3 403.9 1727.3 422.1 1772.8 442.5 1818.3 463 1838.8 474.4 1847.9 480.1 1859.3 492.6 1870.6 501.7"/>
<path d="M1659 401.6L1670.4 392.5 1684 378.8 1695.4 373.1 1707.9 372 1715.9 367.9"/>
<path d="M1677.2 369.7L1679.5 383.4 1672.7 394.7 1680.6 410.7 1668.1 419.8 1659 426.6"/>
<path d="M1659 483.5L1672.7 474.4 1690.9 456.2 1703.4 450.5 1714.8 452.8 1704.5 463 1693.1 474.4 1686.3 479 1679.5 469.9"/>
<path d="M1688.6 483.5L1715.9 486.9 1727.3 494.9 1736.4 504 1750 507.4 1763.7 507.4 1779.6 494.9 1795.5 489.2 1818.3 483.5 1832 480.1 1834.2 497.2 1847.9 497.2"/>
<path d="M1832 469.9L1841.1 479 1852.4 476.7 1859.3 471"/>
<path d="M1684 467.6L1690.9 492.6"/>
<path d="M1872.9 501.7L1886.6 502.8 1909.3 504 1943.5 500.6 1977.6 501.7 2009.5 502.8 2023.1 510.8"/>
<path d="M1847.9 497.2L1863.8 492.6 1872.9 497.2 1877.5 508.5 1888.9 514"/>
<path d="M1737.5 661.9L1736.4 696.1 1731.8 702.9 1735.2 718.8 1740.9 737 1740.9 753 1743.2 766.6 1746.6 775.7 1754.6 789.4 1759.1 800.7"/>
<path d="M1795.5 611.9L1796.7 627.8 1791 650.5 1793.3 673.3 1795.5 687 1804.6 705.2 1810.3 718.8 1811.5 741.6 1809.2 755.2 1802.4 771.2 1797.8 782.5 1791 791.6 1777.3 800.7 1763.7 803 1759.1 800.7"/>
<path d="M1745.5 609.6L1744.3 632.3 1740.9 650.5 1737.5 661.9"/>
<path d="M1977.6 764.3L2000.4 755.2 2034.5 741.6 2068.6 723.4 2091.4 707.4 2114.2 693.8 2127.8 682.4 2135.8 671"/>
<path d="M1964 789.4L1986.7 788.2 2000.4 780.3 2023.1 773.4 2034.5 764.3 2045.9 753 2059.5 743.9 2072.1 738.2 2091.4 723.4 2102.8 714.3 2114.2 702.9 2125.5 689.2 2134.6 673.3"/>
<path d="M1945.7 773.4L1952.6 755.2 1977.6 753 1986.7 743.9 2000.4 732.5 2009.5 723.4 2018.6 712 2025.4 706.3 2036.8 701.8 2055 700.6 2070.9 699.5 2077.7 687 2091.4 681.3 2109.6 674.4 2123.3 671 2134.6 671"/>
<path d="M2121 650.5L2123.3 659.6 2134.6 671"/>
<path d="M2219.1 568.6L2200.6 577.7 2182.4 586.8 2159.7 595.9 2136.9 605 2116.4 613 2105.1 623.2 2095.9 634.6 2091.4 646 2095.9 654 2107.3 654 2116.4 648.3 2121 643.7"/>
<path d="M2121 643.7L2116.4 634.6 2136.9 623.2 2171 614.1 2219.1 602.8"/>
<path d="M2121 644.9L2136.9 638 2159.7 632.3 2189.3 632.3 2219.1 625.5"/>
<path d="M1899.1 527.7L1932.1 543.6 1950.3 557.2 1957.1 580 1966.2 605 1975.3 627.8 1982.2 650.5 1982.2 668.8 1977.6 683.5"/>
<path d="M1977.6 683.5L1977.6 714.3"/>
<path d="M1976.5 683.5L1976 714.3"/>
<path d="M1977.6 714.3L1964 714.3 1966.2 725.6 1977.6 734.7 1961.7 734.7 1952.6 743.9 1952.6 755.2"/>
<path d="M1847.9 534.5L1863.8 543.6 1886.6 552.7 1904.8 556.1 1916.2 565.2 1916.2 582.3 1923 593.7 1924.1 611.9 1918.4 623.2 1916.2 634.6 1909.3 641.4 1903.6 648.3 1904.8 659.6 1913.9 661.9 1920.7 656.2 1929.8 641.4 1938.9 632.3 1948 631.2 1957.1 639.2 1964 655.1 1968.5 673.3 1977.6 683.5"/>
<path d="M2025.4 514L2041.3 527.7 2050.4 532.2 2056.1 543.6 2064.1 555 2075.5 559.5 2066.4 566.3 2064.1 580 2057.3 584.5 2045.9 582.3 2032.2 575.4 2023.1 581.1 2017.4 572 2007.2 564.1 2002.6 553.8 1995.8 549.3 1986.7 553.8 1995.8 562.9 2007.2 574.3 2010.6 586.8 2004.9 598.2 2000.4 609.6 1998.1 623.2 2000.4 639.2 2003.8 657.4 2000.4 668.8 1993.5 675.6 1984.4 684.7 1977.6 683.5"/>
<path d="M1795.5 532.2L1818.3 523.1 1841.1 527.7 1852.4 524.2 1875.2 523.1 1900.2 523.1 1932.1 525.4 1954.9 532.2 1977.6 534.5"/>
<path d="M1850.2 534.5L1841.1 543.6 1843.3 559.5 1832 568.6 1829.7 582.3 1818.3 582.3 1800.1 583.4"/>
<path d="M1745.5 561.8L1754.6 552.7 1756.9 542.4 1772.8 543.6 1777.3 550.4 1795.5 536.8"/>
<path d="M1738.7 582.3L1750 570.9 1761.4 573.2 1759.1 582.3 1754.6 589.1 1747.8 598.2 1745.5 609.6"/>
<path d="M1818.3 543.6L1820.6 550.4 1816 555"/>
<path d="M1800.1 598.2L1813.8 591.4 1827.4 589.1 1829.7 598.2 1822.9 602.8"/>
<path d="M1879.7 516.3L1909.3 518.6 1943.5 516.3 1977.6 523.1 1982.2 529.9 1968.5 534.5"/>
<path d="M2173.3 586.8L2182.4 577.7 2198.4 573.2 2214.3 570.9"/>
</g>
<g fill="none" stroke="#000" stroke-width="4.17" stroke-dasharray="6.4 4.6" stroke-linejoin="round">
<path d="M237.1 191.1L251.9 204.7 267.8 218.4 281.4 222.9 292.8 220.7 298.5 203.6 306.5 188.8 303.1 180.8"/>
<path d="M249.6 345.8L256.4 353.8 257.5 367.4 256.4 381.1 267.8 389.1 279.2 393.6 292.8 392 306.5 395.9 317.9 404.3 336.1 407.3 358.8 410.7 374.7 408.4 395.2 409.5 406.6 412.5 413.4 411.1 431.6 416.4 454.4 423.2 477.2 430 498.8 435.7"/>
<path d="M540.9 257.7L534 283.2 526.1 315.1 518.1 349.2 509 383.4 499.9 413 500.4 426.6 498.8 435.7 504.5 447.1 510.2 459.6 504.5 472.1 493.1 488.1 481.7 502.8 468.1 514"/>
<path d="M577.3 267.3L572.7 292.3 567 315.1 564.8 328.8 570.5 340.1 572.7 356.1 575 367.4 582.1 377.7"/>
<path d="M118.7 568.6L149.4 580 204.1 598.2 249.6 614.1 297.4 630.1 363.4 650.5 428.2 668.8 499.9 688.1 559.1 702.9 582.1 707.4"/>
<path d="M297.4 631.2L283.7 682.4 267.8 741.6 251.9 787.1 243.9 805.3 258.7 828.1 274.6 854"/>
<path d="M468.1 514L460.1 525.4 461.2 534.5 470.3 541.3 465.8 555 456.7 568.6 449.8 593.7 443 621 433.9 655.1 428.2 668.8"/>
<path d="M559.1 704L552.3 730.2 545.4 764.3 538.6 798.5 531.8 832.6 526.1 854"/>
<path d="M272.3 853L306.5 905.3 340.6 960 374.7 1012.3 408.9 1064.6 431.6 1110.2"/>
<path d="M431.6 1110.2L438.5 1094.2 440.7 1071.5 441.9 1053.3 447.6 1045.3 456.7 1045.3 465.8 1054.4 474.9 1053.3 481.7 1039.6 488.5 1012.3 491.9 1000.9"/>
<path d="M524.9 857.6L511.3 909.9 499.9 960 491.9 1000.9"/>
<path d="M491.9 1000.9L534 1012.3 582.1 1021.4"/>
<path d="M431.6 1110.2L433.9 1126.1 438.5 1146.6 446.4 1156.8 436.2 1167.1 425.9 1178.4 420.3 1193"/>
<path d="M270.1 1228.3L317.9 1237.4 363.4 1246.5 395.2 1249.9 386.1 1260.1 420.3 1281.8 454.4 1302.2 499.9 1329.5 545.4 1356.9 568.2 1373.9 582.1 1378.5"/>
<path d="M420.3 1193L408.9 1204.4 402.1 1215.8 403.2 1227.1 411.2 1238.5 406.6 1248.8 395.2 1249.9"/>
<path d="M579.4 271.9L572.6 301.4 569.1 328.8 568 337.9 572.6 362.9 580.5 377.7 586.2 387.9 593 406.1 599.9 416.4 614.7 425.5 609 435.7 603.3 446 599.9 458.5 597.6 469.9 590.8 481.2 595.3 491.5 605.6 490.3 614.7 483.5 620.8 491.5 620.3 504 622.6 514"/>
<path d="M1052.7 357.2L1050 390.2 1047 424.3 1043.6 469.9 1039.1 514"/>
<path d="M621.5 514L627.2 524.2 624.9 534.5 629.4 543.6 638.5 549.3 639.7 561.8 643.1 570.9 651.1 567.5 661.3 570.9 670.4 568.2 681.8 570.9 695.4 573.6 704.5 575.4 707.3 567.5 714.8 568.2 720 578.9"/>
<path d="M727.3 554.5L718.2 605 704.5 673.3 692 730.2 681.8 790.5"/>
<path d="M727.3 554.5L772.8 560.7 841.1 573.6 909.4 584.5 977.6 592.5 1027.7 598.7"/>
<path d="M568 702.9L624.9 716.5 692 731.3"/>
<path d="M681.8 790.5L772.8 808.7 909.4 828.1 1000.4 840.6 1091.4 848.5 1096 854"/>
<path d="M771.7 809.9L768.3 832.6 763.7 854"/>
<path d="M1037.9 514L1034.5 541.3 1030 582.3 1027.7 598.7 1020.9 655.1 1015.2 718.8 1008.4 775.7 1001.5 840.6"/>
<path d="M1034.5 541.3L1128.1 549.3"/>
<path d="M1015.2 718.8L1128.1 729.1"/>
<path d="M766 853L759.2 887.1 750.1 944 741 994.1 730.7 1048.7 725 1080.6 718.2 1126.1 708 1193"/>
<path d="M568 1016.9L636.3 1033.9 730.7 1048.7 795.6 1060.1 886.6 1072.6 1023.2 1087.4 1075.5 1092 1128.1 1096.1"/>
<path d="M1093.7 853L1090.3 909.9 1084.6 989.5 1078.9 1057.8 1075.5 1092"/>
<path d="M1090.3 908.8L1128.1 912.2"/>
<path d="M1025.4 1088.5L1023.2 1118.1 1019.7 1148.9 1015.2 1193"/>
<path d="M1023.2 1118.1L1128.1 1126.1"/>
<path d="M568 1375.1L620.3 1386.4 670.4 1395.1 715.9 1402.4 720.5 1377.3 725 1375.1 795.6 1386.4 807 1387.6 816.1 1391 825.2 1409.2 841.1 1425.1 859.3 1445.6 879.8 1465 886.6 1472.9 893.4 1493.4 895.7 1511.6 900.3 1529.8 902.5 1533"/>
<path d="M706.8 1193L697.7 1249.9 686.3 1318.2 677.2 1366 671.5 1395.5"/>
<path d="M807 1387.6L804.7 1372.8 909.4 1386.4 991.3 1395.5 995.8 1375.1 1002.7 1306.8 1009.5 1238.5 1014.1 1193"/>
<path d="M902.5 1532L909.4 1541.1 918.5 1550.2 927.6 1558.2 943.5 1566.1 954.9 1575.2 966.3 1582.1 975.4 1580.9 984.5 1571.8 990.2 1559.3 995.8 1545.7 1004.9 1537.7 1018.6 1534.3 1027.7 1533.1 1036.8 1538.8 1057.3 1541.1 1070.9 1542.2 1080 1552.5 1091.4 1563.9 1100.5 1574.1 1109.6 1584.3 1114.2 1600.3 1118.7 1611.7 1124.4 1623 1126.7 1634.4 1128.1 1641.2"/>
<path d="M1326.9 375.4L1329.2 392.5 1329.2 419.8 1331.5 431.2 1337.2 447.1 1340.1 460.7 1340.6 481.2 1341.7 514"/>
<path d="M1531.7 514L1545.4 504 1565.9 476.7 1584.1 457.3 1593.2 450.5 1602.3 444.8 1625 431.2 1645.5 419.8"/>
<path d="M1113 548.1L1226.8 556.1 1340.6 559.5 1349.7 559.5"/>
<path d="M1340.6 514L1344 527.7 1349.7 539 1350.8 557.2 1347.4 568.6 1337.2 578.9 1341.7 588 1354.2 595.9 1354.2 627.8 1353.8 673.3 1353.1 707.4"/>
<path d="M1349.7 708.6L1454.4 707.9 1579.5 703.3"/>
<path d="M1347.4 712L1348.5 723.4 1353.1 732.5 1347.4 746.1 1344 757.5 1347.4 765.5 1355.4 773.4 1357.6 784.8 1363.3 796.2 1367.9 809.9 1369 825.8 1374.7 832.6 1378.1 844 1379.3 854"/>
<path d="M1113 727.9L1181.3 732.9 1260.9 736.6 1270 741.6 1279.1 747.3 1288.2 746.1 1297.3 745 1311 745.7 1320.1 750.7 1336 757.5 1347.4 765.5"/>
<path d="M1530.6 514L1531.3 527.7 1530.6 548.1 1522.6 553.8 1513.5 559.5 1506.7 575.4 1515.8 585.7 1513.5 600.5 1512.4 614.1 1513.5 630.1 1520.4 636.9 1534 643.7 1545.4 650.5 1554.5 661.9 1568.2 669.9 1578.4 676.7 1581.8 691.5 1584.1 707.4 1589.8 715.4 1588.6 730.2 1593.2 746.1 1604.6 751.8 1613.7 758.6 1617.1 765.5 1625 773.4 1636.4 783.7 1638.7 791.6 1634.2 809.9 1625 821.2 1613.7 826.9 1602.3 830.3 1598.9 837.2 1602.3 848.5 1605.7 854"/>
<path d="M1617.1 762.1L1673.1 758.6"/>
<path d="M1586.4 514L1613.7 517.4 1622.8 528.8 1647.8 534.5 1673.1 540.2"/>
<path d="M1113 911.7L1226.8 919 1340.6 921.7 1399.7 921.3"/>
<path d="M1378.1 853L1379.3 864.4 1378.1 875.8 1382.7 884.9 1387.2 896.2 1391.8 905.3 1397.5 913.3 1400.9 921.3 1411.1 928.1 1423.6 932.7 1418 941.8 1414.5 950.9 1421.4 960 1428.2 969.1 1437.3 975.9 1438 989.5 1438.4 1057.8 1438.9 1136.3"/>
<path d="M1387.2 884.9L1477.1 883 1568.2 880.3 1577.3 887.1 1585.2 894"/>
<path d="M1605.7 853L1602.3 864.4 1593.2 878 1585.2 891.7 1581.8 905.3 1584.1 921.3 1589.8 932.7 1602.3 944 1613.7 955.4 1622.8 966.8 1627.3 978.2 1633 979.3 1643.3 978.2 1652.4 983.9 1648.9 998.6 1644.4 1014.6 1643.3 1021.4 1652.4 1030.5 1663.7 1037.3 1673.1 1041.9"/>
<path d="M1113 1096.1L1226.8 1102.2 1340.6 1105.6 1438.9 1105.2"/>
<path d="M1438.9 1136.3L1522.6 1134.1 1613.7 1129.5 1656.9 1127.2 1664.9 1132.9 1659.2 1146.6 1651.2 1159.1 1663.7 1158 1673.1 1156.8"/>
<path d="M1438.9 1137.5L1443 1160.2 1447.5 1193"/>
<path d="M1113 1125.6L1171 1130.2 1169.9 1160.2 1167.6 1193"/>
<path d="M1167.6 1193L1166.5 1220.3 1165.3 1246.5 1174.4 1254.4 1183.5 1260.1 1192.7 1260.1 1199.5 1257.9 1205.2 1265.8 1206.3 1271.5 1215.4 1272.7 1226.8 1276.1 1235.9 1278.3 1242.7 1281.8 1251.8 1279.5 1260.9 1279.5 1263.2 1284 1270 1292 1273.4 1296.5 1283.7 1289.7 1292.8 1295.4 1301.9 1297.7 1307.6 1298.8 1312.1 1305.7 1317.8 1294.3 1325.8 1296.5 1334.9 1297.7 1342.9 1301.1 1353.1 1307.9 1361.1 1302.2 1370.2 1297.7 1379.3 1297.7 1389.5 1294.3 1399.7 1297.7 1408.9 1293.1 1418 1296.5 1427.1 1303.4 1436.2 1309.1 1447.5 1311.3 1458.9 1315.9 1470.3 1317"/>
<path d="M1446.4 1193L1449.4 1215.8 1448.7 1261.3 1447.5 1311.3"/>
<path d="M1470.3 1317L1471.4 1350 1472.1 1375.1 1472.1 1411.5 1477.1 1418.3 1484 1427.4 1486.2 1438.8 1493.1 1450.2 1497.6 1461.5 1502.2 1472.9 1499.9 1486.6 1493.1 1500.2 1490.8 1516.2 1491.9 1533"/>
<path d="M1472.1 1350.5L1545.4 1348.9 1622.8 1345.5"/>
<path d="M1673.1 1202.1L1668.3 1211.2 1661.5 1220.3 1650.1 1236.2 1647.8 1249.9 1641 1259 1631.9 1270.4 1625 1284 1625 1293.1 1618.2 1304.5 1620.5 1318.2 1623.9 1331.8 1622.8 1345.5 1625 1356.9 1625 1370.5 1629.6 1379.6 1636.4 1387.6 1634.2 1397.8 1625 1411.5 1615.9 1422.9 1611.4 1434.2 1606.8 1447.9 1604.6 1461.5 1602.3 1471.8 1636.4 1470.6 1673.1 1468.8"/>
<path d="M1663.7 1219.2L1673.1 1218"/>
<path d="M1113 1598L1119.8 1611.7 1124.4 1623 1126.7 1634.4 1135.8 1648.1 1144.9 1661.7 1154 1675.4 1165.3 1684.5 1169.9 1693.6 1167.6 1705 1171 1716.3 1172.2 1725.4 1179 1732.3 1182.4 1741.4 1183.5 1750.5 1188.1 1760.7 1199.5 1764.1 1208.6 1769.8 1220 1775.5 1231.3 1780.1 1240.4 1784.6 1260.9 1788 1272.3 1791.4 1281.4 1798.3 1290.5 1797.1 1292.8 1793.7"/>
<path d="M1659 534.5L1677.2 542.4 1700 543.6 1711.3 552.7 1722.7 561.8 1725 575.4 1731.8 591.4 1734.1 605 1725 614.1 1720.4 623.2 1725 630.1"/>
<path d="M1659 759.3L1743.2 752.5"/>
<path d="M1759.1 800.7L1761.4 821.2 1763.7 854"/>
<path d="M1791 791.6L1882 782.5 1945.7 773.4"/>
<path d="M1882 782.5L1886.6 809.9 1891.1 854"/>
<path d="M2072.1 738.2L2080 775.7 2086.8 809.9 2093.7 854"/>
<path d="M2100.5 715.4L2105.1 726.8 2111.9 727.9 2159.7 718.8 2219.1 707.4"/>
<path d="M1764.8 853L1768.2 887.1 1771.7 932.7 1770.5 944 1768.2 954.3 1773.9 964.5 1777.3 975.9 1773.9 989.5 1768.2 1000.9 1758 1012.3 1756.9 1026 1758 1038.5"/>
<path d="M1891.1 853L1895.7 887.1 1900.2 921.3 1902.1 941.8"/>
<path d="M1758 1038.5L1766 1032.8 1775.1 1032.8 1781.9 1028.2 1791 1028.2 1799 1032.8 1806.9 1026 1814.9 1022.5 1824 1027.1 1830.8 1019.1 1834.2 1010 1841.1 1008.9 1847.9 1015.7 1855.9 1015.7 1859.3 1003.2 1866.1 996.4 1872.9 987.3 1877.5 975.9 1878.6 969.1 1888.9 969.1 1898 964.5 1905.9 957.7 1902.5 948.6 1902.1 941.8 1909.3 940.6 1920.7 940.6 1927.5 946.3 1934.4 954.3 1945.7 956.5 1957.1 961.1 1966.2 958.1 1977.6 960 1986.7 955.4 1997 953.1 2004.9 961.1 2014 966.8 2016.3 975.9 2015.2 985 2023.1 994.1 2032.2 1005.5 2041.3 1012.3 2051.6 1016.9 2057.3 1026 2066.4 1031.6 2075.5 1032.8 2086.8 1026 2093.7 1027.1 2105.1 1021.4 2108.5 1015.7 2123.3 1008.9 2132.4 1005.5 2134.6 994.1 2134.6 987.3 2139.2 973.6 2146 955.4 2150.6 941.8 2152.8 933.8 2161.9 937.2 2171 938.3 2175.6 925.8 2180.2 913.3 2191.5 905.3 2199.5 894 2202.9 880.3 2204 868.9 2214.3 872.3 2219.1 874.6"/>
<path d="M2016.3 966.8L2027.7 964.5 2032.2 948.6 2034.5 932.7 2043.6 933.8 2045.9 925.8 2048.2 912.2 2057.3 903.1 2064.1 900.8 2073.2 894 2080 884.9 2083.4 875.8 2083.4 864.4 2085.7 853"/>
<path d="M2093.7 853L2098.2 873.5 2146 863.2 2219.1 853"/>
<path d="M2146 863.2L2150.6 889.4 2159.7 884.9 2171 873.5 2182.4 864.4 2200.6 859.8 2204 868.9"/>
<path d="M2051.6 1016.9L2045.9 1026 2027.7 1041.9 2018.6 1055.5 2009.5 1066.9 1998.1 1076 1991.3 1080.6 1982.2 1085.1"/>
<path d="M1688.6 1125L1756.9 1120.4 1763.7 1118.1 1763.7 1107.9 1772.8 1109 1886.6 1096.5 1982.2 1085.1 2068.6 1071.5 2075.5 1071.5 2136.9 1060.1 2219.1 1046"/>
<path d="M2076.6 1071.5L2077.7 1082.9 2066.4 1094.2 2059.5 1103.3 2045.9 1110.2 2041.3 1117 2032.2 1114.7 2023.1 1121.5 2014 1135.2 2002.6 1144.3 1991.3 1148.9 1979.9 1153.4 1973.1 1164.8 1962.8 1173.9 1960.5 1187.5"/>
<path d="M1920.7 1193L1960.5 1187.5 2020.8 1180.7 2041.3 1169.3 2057.3 1161.4 2123.3 1153.4 2132.4 1159.1 2139.2 1169.3 2193.8 1162 2205.2 1167.1 2219.1 1176.2"/>
<path d="M2020.8 1180.7L2014 1193"/>
<path d="M1659 1033.9L1672.7 1041.9 1684 1051 1687.4 1062.4 1690.9 1071.5 1688.6 1080.6 1695.4 1089.7 1704.5 1090.8 1710.2 1098.8 1709.1 1110.2 1704.5 1118.1 1693.1 1125 1688.6 1135.2 1685.2 1148.9 1684 1158 1680.6 1169.3 1674.9 1176.2 1672.7 1193"/>
<path d="M1758 1038.5L1754.6 1051 1752.3 1060.1 1743.2 1064.6 1737.5 1071.5 1740.9 1082.9 1731.8 1084 1720.4 1080.6 1711.3 1080.6 1704.5 1090.8"/>
<path d="M1659 1158L1681.8 1156.8"/>
<path d="M1661.3 1129.5L1665.8 1137.5 1659 1148.9"/>
<path d="M1659 1220.3L1768.2 1211.2 1893.4 1197.6 1954.9 1193"/>
<path d="M1668.1 1193L1669.2 1206.7 1661.3 1215.8 1659 1222.6"/>
<path d="M1768.2 1212.3L1771.7 1238.5 1770.5 1306.8 1769.4 1375.1 1768.2 1409.2 1771.7 1432 1775.1 1454.7 1777.3 1472.9 1779.6 1498"/>
<path d="M1894.5 1198.7L1909.3 1238.5 1923 1284 1934.4 1320.4 1945.7 1343.2 1950.3 1354.6 1953.7 1361.4 1948 1370.5 1945.7 1386.4 1950.3 1402.4 1952.6 1416 1954.9 1432 1959.4 1441.1 1967.4 1457 2023.1 1452.4 2111.9 1444.5 2121 1439.9 2121 1429.7 2127.8 1427.4 2143.7 1427.9 2148.3 1425.1"/>
<path d="M2111.9 1444.5L2116.4 1455.9 2123.3 1450.2 2121 1439.9"/>
<path d="M1830.8 1491.1L1833.1 1482 1829.7 1471.8 1820.6 1465 1821.7 1454.7 1886.6 1447.9 1954.9 1441.1"/>
<path d="M2011.7 1193L2014 1201 2027.7 1208.9 2041.3 1212.3 2050.4 1224.9 2059.5 1236.2 2073.2 1245.3 2082.3 1254.4 2095.9 1263.5 2105.1 1274.9 2114.2 1282.9 2123.3 1287.4 2130.1 1300 2134.6 1309.1 2146 1318.2 2152.8 1329.5 2156.3 1338.6 2165.4 1340.9"/>
<path d="M1659 1468.8L1701.1 1466.1 1705.7 1471.8 1702.2 1484.3 1704.5 1493.4 1711.3 1502.5 1715.9 1511.6"/>
<path d="M2458.9 291.2L2454.3 310.5 2445.2 344.7 2446.4 360.6 2443 374.3 2445.2 387.9 2448.6 394.7 2447.5 406.1 2440.7 415.2 2440.7 426.6 2436.1 433.4 2429.3 442.5 2416.8 443.7 2415.6 463"/>
<path d="M2488.5 281L2490.7 271.9 2486.2 251.4 2499.9 242.3 2511.2 237.7 2522.6 242.3 2531.7 238.9 2540.8 233.2 2544.2 225.2"/>
<path d="M2415.6 463L2414.5 479 2420.2 488.1 2417.9 497.2 2406.5 508.5 2405.4 514"/>
<path d="M2340.5 484.6L2342.8 501.7 2347.4 514"/>
<path d="M2428.2 443.7L2433.9 458.5 2443 481.2 2452.1 508.5"/>
<path d="M2347.4 514L2350.8 527.7 2351.9 541.3 2358.8 557.2 2361 568.6 2366.7 567.5 2371.3 580 2374.7 593.7 2379.2 609.6 2380.4 616.4"/>
<path d="M2406.5 514L2408.8 525.4 2407.7 539 2404.3 550.4 2405.4 566.3 2408.8 582.3 2410 598.2 2411.1 605"/>
<path d="M2454.3 514L2461.2 532.2 2468 548.1 2477.1 557.2"/>
<path d="M2380.4 616.4L2411.1 607.3 2443 599.3 2465.7 593.7 2472.5 582.3 2480.5 576.6"/>
<path d="M2380.4 616.4L2381.5 655.1 2386.1 673.3 2390.6 696.1 2395.2 707.4 2390.6 716.5 2390.6 723.4"/>
<path d="M2382.6 658.5L2413.4 652.8 2454.3 640.3 2474.8 634.6 2480.5 646"/>
<path d="M2455.5 641.4L2461.2 655.1 2468 675.6"/>
<path d="M2204 708.6L2249.5 698.3 2295 687 2304.1 687 2313.2 691.5 2317.8 700.6 2324.6 709.7 2336 713.1"/>
<path d="M2336 713.1L2358.8 721.1 2379.2 727.9"/>
<path d="M2336 714.3L2333.7 727.9 2326.9 741.6 2330.3 753 2328 762.1 2333.7 768.9 2345.1 778 2356.5 788.2 2349.6 796.2 2345.1 798.5"/>
<path d="M2204 850.8L2249.5 839.4 2313.2 824.6 2322.3 816.7 2328 814.4"/>
<path d="M2315.5 825.8L2320.1 844 2322.3 854"/>
<path d="M2258.6 514L2249.5 529.9 2240.4 548.1 2226.8 561.8 2213.1 568.6 2204 575.4"/>
<path d="M2204 589.1L2217.7 586.8 2231.3 573.2 2238.1 577.7 2235.9 589.1 2241.6 602.8 2226.8 611.9 2217.7 623.2 2204 627.8"/>
<path d="M2210.8 605L2217.7 589.1 2222.2 570.9"/>
<path d="M2204 866.7L2226.8 880.3 2231.3 868.9 2224.5 857.6 2215.4 853"/>
<path d="M2231.3 868.9L2249.5 875.8 2267.7 884.9 2272.3 889.4"/>
<path d="M2324.6 853L2331.4 875.8 2338.3 896.2 2363.3 894"/>
<path d="M2355.3 921.3L2363.3 919"/>
<path d="M2204 1047.6L2272.3 1032.8 2351.9 1015.7"/>
<path d="M2204 1165.9L2226.8 1180.7 2247.2 1193"/>
<path d="M2242.7 1193L2262 1204.4"/>
<path d="M2692.8 300.3L2689.4 308.3"/>
</g>
<g fill="none" stroke="#000" stroke-width="4.17" stroke-dasharray="8.5 2.5" stroke-linejoin="round">
<path d="M322.4 188.8L363.4 202.4 414.6 217.9 465.8 233.6 534 254.3 582.1 268.4"/>
<path d="M568 265L653.3 287.1 738.7 306 818.3 321.9 909.4 336.7 1052.7 356.1 1128.1 362.9"/>
<path d="M634 182L643.1 185.4 648.8 201.3 649.5 219.5 646.5 230.9 645.4 240 639.7 248 645.4 251.4 643.1 260.5 647.7 270.7 654.5 277.5 657.9 286.7"/>
<path d="M843.4 180.8L836.5 219.5 829.7 260.5 822.9 296.9 817.9 321.9"/>
<path d="M1163.5 180.8L1161.9 265 1160.1 360.6"/>
<path d="M1113 361.1L1158.5 364.7 1226.8 369.7 1317.8 373.8 1408.9 374.3"/>
<path d="M1408.9 180.8L1408.9 374.3"/>
<path d="M1408.9 351.5L1419.1 353.8 1421.4 362.9 1422.5 374.3 1427.1 386.8 1431.6 389.7 1454.4 393.6 1464.6 400.4 1470.3 401.6 1477.1 398.2 1482.8 394.7 1495.3 395.9 1509 401.6 1518.1 408.4 1521.5 416.4 1529.5 411.8 1538.6 415.2 1549.9 423.2 1559.1 426.6 1568.2 424.3 1579.5 417.5 1586.4 420.9 1602.3 421.6 1613.7 419.8 1622.8 426.6 1636.4 425.5 1645.5 419.8 1652.4 401.6 1661.5 390.2 1673.1 387.9"/>
<path d="M2007.2 183.1L2011.7 203.6 2023.1 265 2034.5 321.9 2045.9 378.8 2049.3 401.6 2057.3 419.8 2073.2 435.7 2084.6 450.5 2093.7 458.5 2105.1 461.2 2136.9 461.2 2150.6 463.5 2159.7 469.9 2168.8 475.5 2176.7 476.7 2182.4 471 2189.3 479 2196.1 488.1 2205.2 489.9 2219.1 486.9"/>
<path d="M2458.9 291.2L2468 291.2 2471.4 299.2 2479.4 301.4 2488.5 294.6 2499.9 284.4 2511.2 286.7 2523.7 292.3 2529.4 308.3 2538.5 333.3 2545.4 351.5 2549.9 367.4 2559 374.3 2565.8 368.6 2570.4 378.8 2577.2 392.5 2586.3 395.9"/>
<path d="M2263.2 513.1L2272.3 504 2282.5 501.7 2340.5 484.6 2415.6 463"/>
<path d="M2204 490.3L2217.7 486.9 2226.8 490.3 2245 479 2265.4 465.3 2276.8 462.6 2287.1 465.3 2288.2 481.2"/>
</g>
</g>
<rect x="30.6" y="178.6" width="2789.8" height="1762.8" fill="none" stroke="#000" stroke-width="3.33"/>
<text x="1425.6" y="80.1" font-size="66.67" text-anchor="middle">Hit Rate (Below Normal): CWRF</text>
<text x="1425.6" y="154.2" font-size="66.67" text-anchor="middle">Variable: AT2M, Season: JFM, Start: 1013</text>
<g shape-rendering="crispEdges">
<rect x="2994.3" y="1597.2" width="74.1" height="134.9" fill="#053061"/>
<rect x="2994.3" y="1462.8" width="74.1" height="134.9" fill="#246aae"/>
<rect x="2994.3" y="1328.5" width="74.1" height="134.9" fill="#529dc8"/>
<rect x="2994.3" y="1194.1" width="74.1" height="134.9" fill="#a7d0e4"/>
<rect x="2994.3" y="1059.7" width="74.1" height="134.9" fill="#e1edf3"/>
<rect x="2994.3" y="925.3" width="74.1" height="134.9" fill="#fae8de"/>
<rect x="2994.3" y="790.9" width="74.1" height="134.9" fill="#f7b799"/>
<rect x="2994.3" y="656.6" width="74.1" height="134.9" fill="#dd7059"/>
<rect x="2994.3" y="522.2" width="74.1" height="134.9" fill="#b72230"/>
<rect x="2994.3" y="387.8" width="74.1" height="134.9" fill="#67001f"/>
</g>
<path d="M2994.3 388.3L3031.4 322L3068.4 388.3Z" fill="#67001f"/>
<path d="M2994.3 1731.1L3031.4 1796.4L3068.4 1731.1Z" fill="#053061"/>
<path d="M2994.3 387.8L3031.4 322L3068.4 387.8L3068.4 1731.6L3031.4 1796.4L2994.3 1731.6Z" fill="none" stroke="#000" stroke-width="3.33" stroke-linejoin="miter"/>
<path d="M3068.4 1731.6h14.6" stroke="#000" stroke-width="3.33" fill="none"/>
<text x="3097.6" y="1747.9" font-size="41.67">0.0</text>
<path d="M3068.4 1597.2h14.6" stroke="#000" stroke-width="3.33" fill="none"/>
<text x="3097.6" y="1613.5" font-size="41.67">0.1</text>
<path d="M3068.4 1462.8h14.6" stroke="#000" stroke-width="3.33" fill="none"/>
<text x="3097.6" y="1479.1" font-size="41.67">0.2</text>
<path d="M3068.4 1328.5h14.6" stroke="#000" stroke-width="3.33" fill="none"/>
<text x="3097.6" y="1344.8" font-size="41.67">0.3</text>
<path d="M3068.4 1194.1h14.6" stroke="#000" stroke-width="3.33" fill="none"/>
<text x="3097.6" y="1210.4" font-size="41.67">0.4</text>
<path d="M3068.4 1059.7h14.6" stroke="#000" stroke-width="3.33" fill="none"/>
<text x="3097.6" y="1076" font-size="41.67">0.5</text>
<path d="M3068.4 925.3h14.6" stroke="#000" stroke-width="3.33" fill="none"/>
<text x="3097.6" y="941.6" font-size="41.67">0.6</text>
<path d="M3068.4 790.9h14.6" stroke="#000" stroke-width="3.33" fill="none"/>
<text x="3097.6" y="807.2" font-size="41.67">0.7</text>
<path d="M3068.4 656.6h14.6" stroke="#000" stroke-width="3.33" fill="none"/>
<text x="3097.6" y="672.9" font-size="41.67">0.8</text>
<path d="M3068.4 522.2h14.6" stroke="#000" stroke-width="3.33" fill="none"/>
<text x="3097.6" y="538.5" font-size="41.67">0.9</text>
<path d="M3068.4 387.8h14.6" stroke="#000" stroke-width="3.33" fill="none"/>
<text x="3097.6" y="404.1" font-size="41.67">1.0</text>
<text transform="translate(3211.6 1062.5) rotate(-90)" font-size="41.67" text-anchor="middle">Hit Rate</text>
</svg></body></html>
